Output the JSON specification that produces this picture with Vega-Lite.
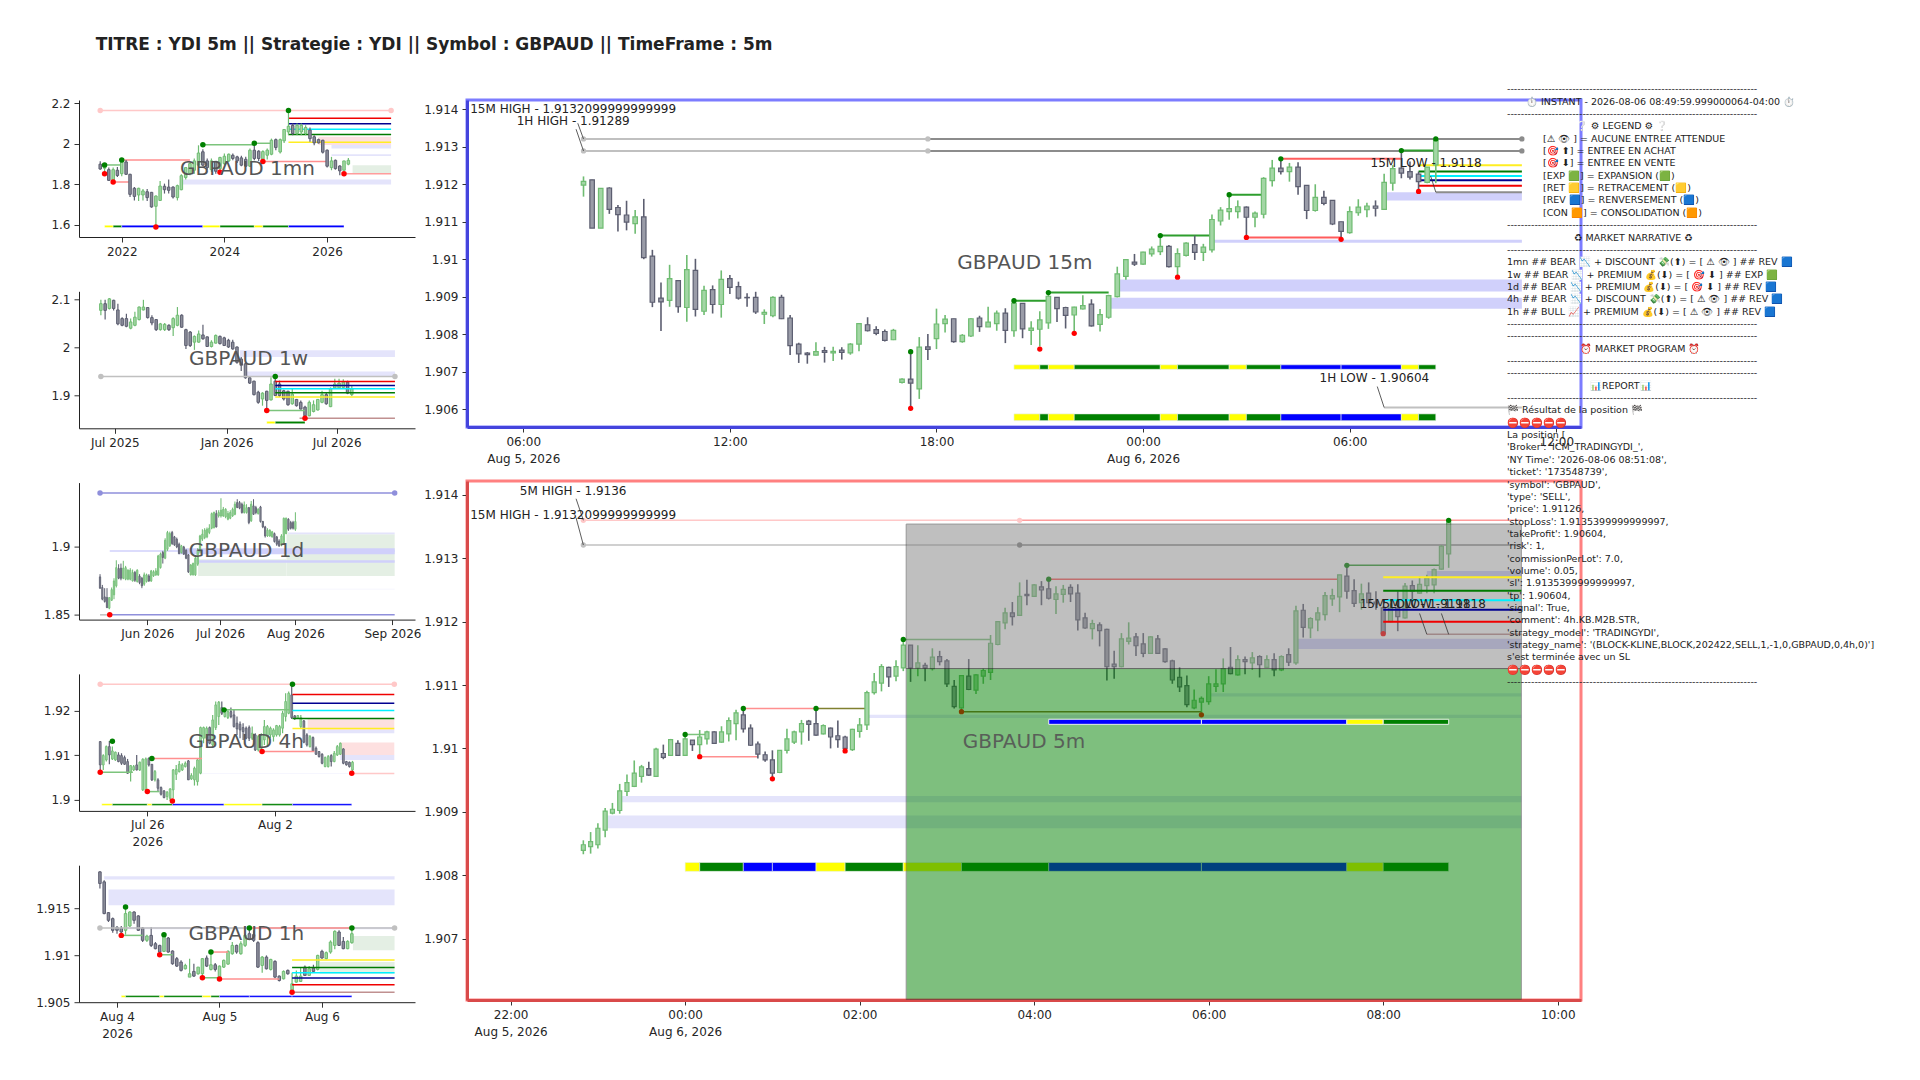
{"$schema":"https://vega.github.io/schema/vega-lite/v6.json","padding":{"left":35,"top":36,"right":0,"bottom":0},"background":"white","bounds":"flush","spacing":388,"title":{"text":"TITRE : YDI 5m || Strategie : YDI || Symbol : GBPAUD || TimeFrame : 5m","anchor":"start","frame":"bounds","font":"DejaVu Sans","fontWeight":"bold","fontSize":17,"color":"#222222","offset":30,"dx":60},
"config":{"legend":{"disable":true},"view":{"stroke":null},"axis":{"title":null,"grid":false,"labelFont":"DejaVu Sans","labelFontSize":12,"labelColor":"#262626","domainColor":"#222222","tickColor":"#333333","tickSize":5,"labelPadding":4,"labelOverlap":false,"labelFlush":false,"labelLineHeight":17},"text":{"font":"DejaVu Sans"}},
"datasets":{
"c15":[{"t":"2026-08-05T07:45","o":1.91198,"h":1.91221,"l":1.91167,"c":1.91208},{"t":"2026-08-05T08:00","o":1.91212,"h":1.91212,"l":1.91083,"c":1.91083},{"t":"2026-08-05T08:15","o":1.91083,"h":1.9119,"l":1.91083,"c":1.91189},{"t":"2026-08-05T08:30","o":1.9119,"h":1.91192,"l":1.91121,"c":1.91133},{"t":"2026-08-05T08:45","o":1.91138,"h":1.91145,"l":1.91074,"c":1.91119},{"t":"2026-08-05T09:00","o":1.91118,"h":1.91156,"l":1.91077,"c":1.91099},{"t":"2026-08-05T09:15","o":1.91095,"h":1.91131,"l":1.91068,"c":1.91113},{"t":"2026-08-05T09:30","o":1.91113,"h":1.91161,"l":1.91,"c":1.91004},{"t":"2026-08-05T09:45","o":1.91008,"h":1.91025,"l":1.90872,"c":1.90885},{"t":"2026-08-05T10:00","o":1.90896,"h":1.90938,"l":1.90808,"c":1.90886},{"t":"2026-08-05T10:15","o":1.9089,"h":1.90985,"l":1.90873,"c":1.90948},{"t":"2026-08-05T10:30","o":1.90943,"h":1.90943,"l":1.90857,"c":1.90873},{"t":"2026-08-05T10:45","o":1.90871,"h":1.91011,"l":1.90833,"c":1.90972},{"t":"2026-08-05T11:00","o":1.9097,"h":1.91001,"l":1.90847,"c":1.90866},{"t":"2026-08-05T11:15","o":1.90861,"h":1.90929,"l":1.90851,"c":1.90917},{"t":"2026-08-05T11:30","o":1.90919,"h":1.9093,"l":1.90855,"c":1.90879},{"t":"2026-08-05T11:45","o":1.90879,"h":1.9097,"l":1.90844,"c":1.90946},{"t":"2026-08-05T12:00","o":1.90948,"h":1.90958,"l":1.90907,"c":1.90925},{"t":"2026-08-05T12:15","o":1.90927,"h":1.9094,"l":1.90892,"c":1.90896},{"t":"2026-08-05T12:30","o":1.90898,"h":1.90909,"l":1.90873,"c":1.90897},{"t":"2026-08-05T12:45","o":1.90898,"h":1.90913,"l":1.90854,"c":1.90859},{"t":"2026-08-05T13:00","o":1.90853,"h":1.90866,"l":1.90827,"c":1.90858},{"t":"2026-08-05T13:15","o":1.90849,"h":1.90901,"l":1.90845,"c":1.90898},{"t":"2026-08-05T13:30","o":1.90898,"h":1.90905,"l":1.9084,"c":1.90841},{"t":"2026-08-05T13:45","o":1.90843,"h":1.90851,"l":1.90744,"c":1.90769},{"t":"2026-08-05T14:00","o":1.90773,"h":1.90777,"l":1.90723,"c":1.90747},{"t":"2026-08-05T14:15","o":1.90749,"h":1.90752,"l":1.90721,"c":1.90745},{"t":"2026-08-05T14:30","o":1.90744,"h":1.90778,"l":1.90743,"c":1.90753},{"t":"2026-08-05T14:45","o":1.90756,"h":1.90766,"l":1.90724,"c":1.90751},{"t":"2026-08-05T15:00","o":1.9075,"h":1.90766,"l":1.90728,"c":1.90754},{"t":"2026-08-05T15:15","o":1.90757,"h":1.90765,"l":1.90732,"c":1.90751},{"t":"2026-08-05T15:30","o":1.9075,"h":1.90776,"l":1.90745,"c":1.90773},{"t":"2026-08-05T15:45","o":1.90773,"h":1.90829,"l":1.90754,"c":1.90828},{"t":"2026-08-05T16:00","o":1.90825,"h":1.90845,"l":1.90807,"c":1.90809},{"t":"2026-08-05T16:15","o":1.90812,"h":1.90821,"l":1.90797,"c":1.90802},{"t":"2026-08-05T16:30","o":1.90807,"h":1.90812,"l":1.9078,"c":1.90783},{"t":"2026-08-05T16:45","o":1.90785,"h":1.90814,"l":1.90784,"c":1.9081},{"t":"2026-08-05T17:00","o":1.90671,"h":1.90682,"l":1.90668,"c":1.9068},{"t":"2026-08-05T17:15","o":1.9068,"h":1.90753,"l":1.90602,"c":1.90669},{"t":"2026-08-05T17:30","o":1.90654,"h":1.90792,"l":1.90627,"c":1.90765},{"t":"2026-08-05T17:45","o":1.90766,"h":1.908,"l":1.90731,"c":1.90759},{"t":"2026-08-05T18:00","o":1.90788,"h":1.90868,"l":1.9076,"c":1.90827},{"t":"2026-08-05T18:15","o":1.90828,"h":1.90851,"l":1.90804,"c":1.9084},{"t":"2026-08-05T18:30","o":1.90841,"h":1.90841,"l":1.90777,"c":1.9078},{"t":"2026-08-05T18:45","o":1.9078,"h":1.908,"l":1.90777,"c":1.90797},{"t":"2026-08-05T19:00","o":1.90795,"h":1.90842,"l":1.90792,"c":1.90841},{"t":"2026-08-05T19:15","o":1.90843,"h":1.90849,"l":1.90806,"c":1.9082},{"t":"2026-08-05T19:30","o":1.90819,"h":1.90873,"l":1.90819,"c":1.90832},{"t":"2026-08-05T19:45","o":1.90828,"h":1.90863,"l":1.90809,"c":1.90856},{"t":"2026-08-05T20:00","o":1.90856,"h":1.90869,"l":1.90776,"c":1.9081},{"t":"2026-08-05T20:15","o":1.90809,"h":1.90891,"l":1.90793,"c":1.90882},{"t":"2026-08-05T20:30","o":1.90882,"h":1.90882,"l":1.90789,"c":1.90814},{"t":"2026-08-05T20:45","o":1.9081,"h":1.90834,"l":1.90771,"c":1.90816},{"t":"2026-08-05T21:00","o":1.90813,"h":1.90861,"l":1.90767,"c":1.90838},{"t":"2026-08-05T21:15","o":1.9083,"h":1.90911,"l":1.90814,"c":1.90901},{"t":"2026-08-05T21:30","o":1.90898,"h":1.90898,"l":1.90832,"c":1.90868},{"t":"2026-08-05T21:45","o":1.90871,"h":1.90873,"l":1.90815,"c":1.9085},{"t":"2026-08-05T22:00","o":1.90851,"h":1.90873,"l":1.90802,"c":1.90872},{"t":"2026-08-05T22:15","o":1.90867,"h":1.90904,"l":1.90866,"c":1.90876},{"t":"2026-08-05T22:30","o":1.9088,"h":1.90893,"l":1.9082,"c":1.90822},{"t":"2026-08-05T22:45","o":1.90826,"h":1.90867,"l":1.90807,"c":1.90852},{"t":"2026-08-05T23:00","o":1.90845,"h":1.90905,"l":1.90841,"c":1.90903},{"t":"2026-08-05T23:15","o":1.909,"h":1.9098,"l":1.90898,"c":1.90961},{"t":"2026-08-05T23:30","o":1.90954,"h":1.91,"l":1.90945,"c":1.90999},{"t":"2026-08-05T23:45","o":1.90992,"h":1.91014,"l":1.90982,"c":1.90987},{"t":"2026-08-06T00:00","o":1.90987,"h":1.9102,"l":1.90985,"c":1.91019},{"t":"2026-08-06T00:15","o":1.91014,"h":1.91034,"l":1.91007,"c":1.91027},{"t":"2026-08-06T00:30","o":1.9102,"h":1.9106,"l":1.91011,"c":1.91034},{"t":"2026-08-06T00:45","o":1.91034,"h":1.91038,"l":1.90978,"c":1.9098},{"t":"2026-08-06T01:00","o":1.9098,"h":1.91029,"l":1.90952,"c":1.91015},{"t":"2026-08-06T01:15","o":1.9101,"h":1.91045,"l":1.91007,"c":1.91043},{"t":"2026-08-06T01:30","o":1.91039,"h":1.91063,"l":1.90998,"c":1.91018},{"t":"2026-08-06T01:45","o":1.91018,"h":1.91041,"l":1.90995,"c":1.91032},{"t":"2026-08-06T02:00","o":1.91025,"h":1.91119,"l":1.91018,"c":1.91106},{"t":"2026-08-06T02:15","o":1.91102,"h":1.91139,"l":1.9109,"c":1.91131},{"t":"2026-08-06T02:30","o":1.91127,"h":1.91172,"l":1.91105,"c":1.91135},{"t":"2026-08-06T02:45","o":1.91127,"h":1.91157,"l":1.91109,"c":1.9114},{"t":"2026-08-06T03:00","o":1.91139,"h":1.91141,"l":1.91058,"c":1.91112},{"t":"2026-08-06T03:15","o":1.91112,"h":1.91127,"l":1.91085,"c":1.91123},{"t":"2026-08-06T03:30","o":1.9112,"h":1.91219,"l":1.91109,"c":1.91216},{"t":"2026-08-06T03:45","o":1.9121,"h":1.91265,"l":1.91194,"c":1.91243},{"t":"2026-08-06T04:00","o":1.91243,"h":1.91268,"l":1.91226,"c":1.91234},{"t":"2026-08-06T04:15","o":1.91234,"h":1.91257,"l":1.91207,"c":1.91246},{"t":"2026-08-06T04:30","o":1.91246,"h":1.91259,"l":1.91172,"c":1.91194},{"t":"2026-08-06T04:45","o":1.91197,"h":1.91198,"l":1.91107,"c":1.9113},{"t":"2026-08-06T05:00","o":1.9113,"h":1.912,"l":1.91127,"c":1.91165},{"t":"2026-08-06T05:15","o":1.91165,"h":1.91183,"l":1.91144,"c":1.91149},{"t":"2026-08-06T05:30","o":1.91157,"h":1.91157,"l":1.91091,"c":1.91094},{"t":"2026-08-06T05:45","o":1.911,"h":1.911,"l":1.91053,"c":1.91074},{"t":"2026-08-06T06:00","o":1.91071,"h":1.91141,"l":1.91068,"c":1.91127},{"t":"2026-08-06T06:15","o":1.91124,"h":1.9116,"l":1.91116,"c":1.91139},{"t":"2026-08-06T06:30","o":1.91132,"h":1.91151,"l":1.91112,"c":1.91142},{"t":"2026-08-06T06:45","o":1.91142,"h":1.91157,"l":1.91114,"c":1.91136},{"t":"2026-08-06T07:00","o":1.91133,"h":1.91228,"l":1.91132,"c":1.91205},{"t":"2026-08-06T07:15","o":1.91203,"h":1.91251,"l":1.91183,"c":1.91242},{"t":"2026-08-06T07:30","o":1.91243,"h":1.91289,"l":1.91216,"c":1.9123},{"t":"2026-08-06T07:45","o":1.91234,"h":1.91261,"l":1.91213,"c":1.91219},{"t":"2026-08-06T08:00","o":1.91227,"h":1.91234,"l":1.91181,"c":1.91207},{"t":"2026-08-06T08:15","o":1.91205,"h":1.91246,"l":1.91203,"c":1.91246},{"t":"2026-08-06T08:30","o":1.91252,"h":1.91321,"l":1.91203,"c":1.91319}],
"s15":[{"t":"2026-08-05T07:45","e":"2026-08-05T17:45","y":1.91321,"k":"gryL"},{"t":"2026-08-05T17:45","e":"2026-08-06T11:00","y":1.91321,"k":"gry"},{"t":"2026-08-05T07:45","e":"2026-08-05T17:45","y":1.91289,"k":"gryL"},{"t":"2026-08-05T17:45","e":"2026-08-06T11:00","y":1.91289,"k":"gry"},{"t":"2026-08-06T07:00","e":"2026-08-06T11:00","y":1.90604,"k":"gryL"},{"t":"2026-08-06T08:30","e":"2026-08-06T11:00","y":1.91179,"k":"gry"},{"t":"2026-08-05T20:15","e":"2026-08-05T21:15","y":1.90889,"k":"up"},{"t":"2026-08-05T21:15","e":"2026-08-05T23:00","y":1.90911,"k":"up"},{"t":"2026-08-06T00:30","e":"2026-08-06T02:00","y":1.91063,"k":"up"},{"t":"2026-08-06T02:30","e":"2026-08-06T03:30","y":1.91172,"k":"up"},{"t":"2026-08-06T07:30","e":"2026-08-06T08:30","y":1.9129,"k":"up"},{"t":"2026-08-06T04:00","e":"2026-08-06T07:30","y":1.91268,"k":"dn"},{"t":"2026-08-06T03:00","e":"2026-08-06T05:45","y":1.91058,"k":"dn"},{"t":"2026-08-06T08:00","e":"2026-08-06T11:00","y":1.91251,"k":"yel"},{"t":"2026-08-06T08:00","e":"2026-08-06T11:00","y":1.91234,"k":"grn"},{"t":"2026-08-06T08:00","e":"2026-08-06T11:00","y":1.91222,"k":"cya"},{"t":"2026-08-06T08:00","e":"2026-08-06T11:00","y":1.91211,"k":"nav"},{"t":"2026-08-06T08:00","e":"2026-08-06T11:00","y":1.91196,"k":"red"}],
"z15":[{"t":"2026-08-05T23:15","e":"2026-08-06T11:00","y":1.90946,"y2":1.90914,"k":"lav"},{"t":"2026-08-05T23:00","e":"2026-08-06T11:00","y":1.90897,"y2":1.90868,"k":"lav"},{"t":"2026-08-06T02:00","e":"2026-08-06T11:00","y":1.91052,"y2":1.91044,"k":"lav"},{"t":"2026-08-06T07:00","e":"2026-08-06T11:00","y":1.91179,"y2":1.91157,"k":"lav"}],
"b15":[{"t":"2026-08-05T20:15","e":"2026-08-05T21:00","y":1.90718,"y2":1.90706,"k":"barY"},{"t":"2026-08-05T21:00","e":"2026-08-05T21:15","y":1.90718,"y2":1.90706,"k":"barG"},{"t":"2026-08-05T21:15","e":"2026-08-05T22:00","y":1.90718,"y2":1.90706,"k":"barY"},{"t":"2026-08-05T22:00","e":"2026-08-06T00:30","y":1.90718,"y2":1.90706,"k":"barG"},{"t":"2026-08-06T00:30","e":"2026-08-06T01:00","y":1.90718,"y2":1.90706,"k":"barY"},{"t":"2026-08-06T01:00","e":"2026-08-06T02:30","y":1.90718,"y2":1.90706,"k":"barG"},{"t":"2026-08-06T02:30","e":"2026-08-06T03:00","y":1.90718,"y2":1.90706,"k":"barY"},{"t":"2026-08-06T03:00","e":"2026-08-06T04:00","y":1.90718,"y2":1.90706,"k":"barG"},{"t":"2026-08-06T04:00","e":"2026-08-06T05:45","y":1.90718,"y2":1.90706,"k":"barB"},{"t":"2026-08-06T05:45","e":"2026-08-06T07:30","y":1.90718,"y2":1.90706,"k":"barB"},{"t":"2026-08-06T07:30","e":"2026-08-06T08:00","y":1.90718,"y2":1.90706,"k":"barY"},{"t":"2026-08-06T08:00","e":"2026-08-06T08:30","y":1.90718,"y2":1.90706,"k":"barG"},{"t":"2026-08-05T20:15","e":"2026-08-05T21:00","y":1.90587,"y2":1.90569,"k":"barY"},{"t":"2026-08-05T21:00","e":"2026-08-05T21:15","y":1.90587,"y2":1.90569,"k":"barG"},{"t":"2026-08-05T21:15","e":"2026-08-05T22:00","y":1.90587,"y2":1.90569,"k":"barY"},{"t":"2026-08-05T22:00","e":"2026-08-06T00:30","y":1.90587,"y2":1.90569,"k":"barG"},{"t":"2026-08-06T00:30","e":"2026-08-06T01:00","y":1.90587,"y2":1.90569,"k":"barY"},{"t":"2026-08-06T01:00","e":"2026-08-06T02:30","y":1.90587,"y2":1.90569,"k":"barG"},{"t":"2026-08-06T02:30","e":"2026-08-06T03:00","y":1.90587,"y2":1.90569,"k":"barY"},{"t":"2026-08-06T03:00","e":"2026-08-06T04:00","y":1.90587,"y2":1.90569,"k":"barG"},{"t":"2026-08-06T04:00","e":"2026-08-06T05:45","y":1.90587,"y2":1.90569,"k":"barB"},{"t":"2026-08-06T05:45","e":"2026-08-06T07:30","y":1.90587,"y2":1.90569,"k":"barB"},{"t":"2026-08-06T07:30","e":"2026-08-06T08:00","y":1.90587,"y2":1.90569,"k":"barY"},{"t":"2026-08-06T08:00","e":"2026-08-06T08:30","y":1.90587,"y2":1.90569,"k":"barG"}],
"d15":[{"t":"2026-08-05T07:45","y":1.91321,"k":"gryL"},{"t":"2026-08-05T07:45","y":1.91289,"k":"gryL"},{"t":"2026-08-05T17:45","y":1.91321,"k":"gryL"},{"t":"2026-08-05T17:45","y":1.91289,"k":"gryL"},{"t":"2026-08-06T11:00","y":1.91321,"k":"gry"},{"t":"2026-08-06T11:00","y":1.91289,"k":"gry"},{"t":"2026-08-05T17:15","y":1.90753,"k":"dotU"},{"t":"2026-08-05T20:15","y":1.90889,"k":"dotU"},{"t":"2026-08-05T21:15","y":1.90911,"k":"dotU"},{"t":"2026-08-06T00:30","y":1.91063,"k":"dotU"},{"t":"2026-08-06T02:30","y":1.91172,"k":"dotU"},{"t":"2026-08-06T04:00","y":1.91268,"k":"dotU"},{"t":"2026-08-06T07:30","y":1.9129,"k":"dotU"},{"t":"2026-08-06T08:30","y":1.91321,"k":"dotU"},{"t":"2026-08-05T17:15","y":1.90602,"k":"dotD"},{"t":"2026-08-05T21:00","y":1.9076,"k":"dotD"},{"t":"2026-08-05T22:00","y":1.90802,"k":"dotD"},{"t":"2026-08-06T01:00","y":1.90952,"k":"dotD"},{"t":"2026-08-06T03:00","y":1.91058,"k":"dotD"},{"t":"2026-08-06T05:45","y":1.91053,"k":"dotD"},{"t":"2026-08-06T08:00","y":1.91181,"k":"dotD"}],
"x15":[{"t":"2026-08-05T07:27","y":1.91401,"label":"15M HIGH - 1.9132099999999999"},{"t":"2026-08-05T07:27","y":1.91369,"label":"1H HIGH - 1.91289"},{"t":"2026-08-06T06:43","y":1.90684,"label":"1H LOW - 1.90604"},{"t":"2026-08-06T08:13","y":1.91258,"label":"15M LOW - 1.9118"}],
"n15":[{"g":"a","t":"2026-08-05T07:35","y":1.91363},{"g":"a","t":"2026-08-05T07:45","y":1.91321},{"g":"b","t":"2026-08-05T07:32","y":1.91347},{"g":"b","t":"2026-08-05T07:45","y":1.91289},{"g":"c","t":"2026-08-06T06:48","y":1.9066},{"g":"c","t":"2026-08-06T07:00","y":1.90604},{"g":"d","t":"2026-08-06T08:21","y":1.91222},{"g":"d","t":"2026-08-06T08:30","y":1.91179}],
"c5":[{"t":"2026-08-05T22:50","o":1.90839,"h":1.90855,"l":1.90833,"c":1.90848},{"t":"2026-08-05T22:55","o":1.90845,"h":1.90868,"l":1.90834,"c":1.90853},{"t":"2026-08-05T23:00","o":1.90848,"h":1.90882,"l":1.90842,"c":1.90874},{"t":"2026-08-05T23:05","o":1.90871,"h":1.90906,"l":1.9086,"c":1.90901},{"t":"2026-08-05T23:10","o":1.90898,"h":1.90914,"l":1.90896,"c":1.90904},{"t":"2026-08-05T23:15","o":1.90902,"h":1.90944,"l":1.90897,"c":1.90933},{"t":"2026-08-05T23:20","o":1.90932,"h":1.90959,"l":1.90925,"c":1.90946},{"t":"2026-08-05T23:25","o":1.9094,"h":1.90981,"l":1.90939,"c":1.90961},{"t":"2026-08-05T23:30","o":1.90956,"h":1.90974,"l":1.90946,"c":1.90971},{"t":"2026-08-05T23:35","o":1.90968,"h":1.90979,"l":1.90957,"c":1.90958},{"t":"2026-08-05T23:40","o":1.90956,"h":1.91001,"l":1.90955,"c":1.90999},{"t":"2026-08-05T23:45","o":1.90992,"h":1.91006,"l":1.90983,"c":1.90986},{"t":"2026-08-05T23:50","o":1.90989,"h":1.91015,"l":1.90988,"c":1.91014},{"t":"2026-08-05T23:55","o":1.91008,"h":1.91013,"l":1.90988,"c":1.90989},{"t":"2026-08-06T00:00","o":1.90989,"h":1.91022,"l":1.90988,"c":1.91015},{"t":"2026-08-06T00:05","o":1.91013,"h":1.91013,"l":1.90996,"c":1.91006},{"t":"2026-08-06T00:10","o":1.91006,"h":1.91029,"l":1.90987,"c":1.91018},{"t":"2026-08-06T00:15","o":1.91015,"h":1.91028,"l":1.91006,"c":1.91026},{"t":"2026-08-06T00:20","o":1.91026,"h":1.91027,"l":1.91007,"c":1.91008},{"t":"2026-08-06T00:25","o":1.9101,"h":1.91035,"l":1.91009,"c":1.91026},{"t":"2026-08-06T00:30","o":1.91023,"h":1.91049,"l":1.91011,"c":1.91044},{"t":"2026-08-06T00:35","o":1.91039,"h":1.91061,"l":1.91013,"c":1.91056},{"t":"2026-08-06T00:40","o":1.91053,"h":1.91061,"l":1.91025,"c":1.91031},{"t":"2026-08-06T00:45","o":1.91032,"h":1.91038,"l":1.91004,"c":1.91005},{"t":"2026-08-06T00:50","o":1.91007,"h":1.91011,"l":1.90984,"c":1.90991},{"t":"2026-08-06T00:55","o":1.9099,"h":1.90995,"l":1.90979,"c":1.90982},{"t":"2026-08-06T01:00","o":1.90982,"h":1.90997,"l":1.90952,"c":1.90961},{"t":"2026-08-06T01:05","o":1.90962,"h":1.90997,"l":1.90961,"c":1.90997},{"t":"2026-08-06T01:10","o":1.90997,"h":1.91031,"l":1.90992,"c":1.91015},{"t":"2026-08-06T01:15","o":1.9101,"h":1.91028,"l":1.91007,"c":1.91026},{"t":"2026-08-06T01:20","o":1.91026,"h":1.91045,"l":1.91006,"c":1.91039},{"t":"2026-08-06T01:25","o":1.91043,"h":1.91045,"l":1.91012,"c":1.91038},{"t":"2026-08-06T01:30","o":1.91039,"h":1.91063,"l":1.9102,"c":1.91021},{"t":"2026-08-06T01:35","o":1.91023,"h":1.91038,"l":1.91022,"c":1.91036},{"t":"2026-08-06T01:40","o":1.91032,"h":1.91033,"l":1.91,"c":1.91018},{"t":"2026-08-06T01:45","o":1.9102,"h":1.91044,"l":1.91001,"c":1.91014},{"t":"2026-08-06T01:50","o":1.91018,"h":1.9102,"l":1.90996,"c":1.91},{"t":"2026-08-06T01:55","o":1.90998,"h":1.91031,"l":1.90996,"c":1.9103},{"t":"2026-08-06T02:00","o":1.91027,"h":1.91048,"l":1.91017,"c":1.91037},{"t":"2026-08-06T02:05","o":1.91037,"h":1.91091,"l":1.91029,"c":1.91088},{"t":"2026-08-06T02:10","o":1.91088,"h":1.91119,"l":1.91085,"c":1.91105},{"t":"2026-08-06T02:15","o":1.91103,"h":1.91133,"l":1.9109,"c":1.91129},{"t":"2026-08-06T02:20","o":1.91128,"h":1.91129,"l":1.91097,"c":1.91113},{"t":"2026-08-06T02:25","o":1.91114,"h":1.91139,"l":1.91106,"c":1.91129},{"t":"2026-08-06T02:30","o":1.91127,"h":1.91172,"l":1.91122,"c":1.91163},{"t":"2026-08-06T02:35","o":1.91163,"h":1.91163,"l":1.91105,"c":1.91127},{"t":"2026-08-06T02:40","o":1.91127,"h":1.91163,"l":1.91114,"c":1.91135},{"t":"2026-08-06T02:45","o":1.91131,"h":1.91135,"l":1.91106,"c":1.91127},{"t":"2026-08-06T02:50","o":1.91126,"h":1.91158,"l":1.91123,"c":1.91144},{"t":"2026-08-06T02:55","o":1.91145,"h":1.91154,"l":1.91131,"c":1.91137},{"t":"2026-08-06T03:00","o":1.91138,"h":1.91141,"l":1.91097,"c":1.91102},{"t":"2026-08-06T03:05","o":1.91098,"h":1.91108,"l":1.91063,"c":1.91066},{"t":"2026-08-06T03:10","o":1.91064,"h":1.91115,"l":1.91058,"c":1.91115},{"t":"2026-08-06T03:15","o":1.91114,"h":1.91141,"l":1.91092,"c":1.91093},{"t":"2026-08-06T03:20","o":1.91092,"h":1.91117,"l":1.91086,"c":1.91116},{"t":"2026-08-06T03:25","o":1.91114,"h":1.91126,"l":1.91102,"c":1.91123},{"t":"2026-08-06T03:30","o":1.9112,"h":1.91179,"l":1.91108,"c":1.91166},{"t":"2026-08-06T03:35","o":1.91164,"h":1.912,"l":1.91163,"c":1.912},{"t":"2026-08-06T03:40","o":1.91198,"h":1.91222,"l":1.91188,"c":1.91214},{"t":"2026-08-06T03:45","o":1.91214,"h":1.91231,"l":1.91194,"c":1.91208},{"t":"2026-08-06T03:50","o":1.9121,"h":1.91262,"l":1.91209,"c":1.9124},{"t":"2026-08-06T03:55","o":1.91243,"h":1.91266,"l":1.91226,"c":1.91241},{"t":"2026-08-06T04:00","o":1.9124,"h":1.91259,"l":1.91239,"c":1.91258},{"t":"2026-08-06T04:05","o":1.91255,"h":1.91264,"l":1.91226,"c":1.9125},{"t":"2026-08-06T04:10","o":1.91252,"h":1.91267,"l":1.91235,"c":1.91237},{"t":"2026-08-06T04:15","o":1.91235,"h":1.91256,"l":1.91212,"c":1.91244},{"t":"2026-08-06T04:20","o":1.91243,"h":1.91258,"l":1.9123,"c":1.91251},{"t":"2026-08-06T04:25","o":1.91254,"h":1.91259,"l":1.91231,"c":1.91244},{"t":"2026-08-06T04:30","o":1.91245,"h":1.91259,"l":1.91186,"c":1.91203},{"t":"2026-08-06T04:35","o":1.91206,"h":1.91214,"l":1.91189,"c":1.9119},{"t":"2026-08-06T04:40","o":1.91189,"h":1.91203,"l":1.91172,"c":1.91197},{"t":"2026-08-06T04:45","o":1.91195,"h":1.91199,"l":1.91161,"c":1.91186},{"t":"2026-08-06T04:50","o":1.91188,"h":1.91189,"l":1.91107,"c":1.91129},{"t":"2026-08-06T04:55","o":1.91133,"h":1.91154,"l":1.9111,"c":1.91129},{"t":"2026-08-06T05:00","o":1.91129,"h":1.91182,"l":1.91128,"c":1.91173},{"t":"2026-08-06T05:05","o":1.91169,"h":1.91199,"l":1.91164,"c":1.91174},{"t":"2026-08-06T05:10","o":1.91176,"h":1.91182,"l":1.91146,"c":1.91162},{"t":"2026-08-06T05:15","o":1.91165,"h":1.91182,"l":1.91144,"c":1.9115},{"t":"2026-08-06T05:20","o":1.9115,"h":1.91177,"l":1.91149,"c":1.91176},{"t":"2026-08-06T05:25","o":1.91173,"h":1.91179,"l":1.91149,"c":1.9115},{"t":"2026-08-06T05:30","o":1.91157,"h":1.91158,"l":1.91135,"c":1.91137},{"t":"2026-08-06T05:35","o":1.91138,"h":1.9114,"l":1.91102,"c":1.91108},{"t":"2026-08-06T05:40","o":1.91112,"h":1.91128,"l":1.91089,"c":1.91097},{"t":"2026-08-06T05:45","o":1.91099,"h":1.91115,"l":1.91065,"c":1.91069},{"t":"2026-08-06T05:50","o":1.91064,"h":1.91093,"l":1.91062,"c":1.91076},{"t":"2026-08-06T05:55","o":1.91073,"h":1.91082,"l":1.91053,"c":1.91079},{"t":"2026-08-06T06:00","o":1.91074,"h":1.91114,"l":1.91069,"c":1.91102},{"t":"2026-08-06T06:05","o":1.91098,"h":1.91125,"l":1.91089,"c":1.91102},{"t":"2026-08-06T06:10","o":1.91102,"h":1.91142,"l":1.91089,"c":1.91126},{"t":"2026-08-06T06:15","o":1.91128,"h":1.9116,"l":1.91117,"c":1.91118},{"t":"2026-08-06T06:20","o":1.91116,"h":1.91147,"l":1.91115,"c":1.9114},{"t":"2026-08-06T06:25","o":1.9114,"h":1.91145,"l":1.91117,"c":1.91137},{"t":"2026-08-06T06:30","o":1.91135,"h":1.91152,"l":1.91124,"c":1.91143},{"t":"2026-08-06T06:35","o":1.91145,"h":1.91147,"l":1.91112,"c":1.91132},{"t":"2026-08-06T06:40","o":1.91128,"h":1.91147,"l":1.91128,"c":1.9114},{"t":"2026-08-06T06:45","o":1.9114,"h":1.9115,"l":1.91114,"c":1.91124},{"t":"2026-08-06T06:50","o":1.91124,"h":1.91147,"l":1.91122,"c":1.91145},{"t":"2026-08-06T06:55","o":1.91148,"h":1.91158,"l":1.9113,"c":1.91136},{"t":"2026-08-06T07:00","o":1.91135,"h":1.91225,"l":1.91132,"c":1.91217},{"t":"2026-08-06T07:05","o":1.91218,"h":1.91228,"l":1.91175,"c":1.91191},{"t":"2026-08-06T07:10","o":1.9119,"h":1.91207,"l":1.91174,"c":1.91205},{"t":"2026-08-06T07:15","o":1.91203,"h":1.91223,"l":1.91185,"c":1.91214},{"t":"2026-08-06T07:20","o":1.91211,"h":1.91247,"l":1.91202,"c":1.91241},{"t":"2026-08-06T07:25","o":1.91236,"h":1.91252,"l":1.91225,"c":1.91241},{"t":"2026-08-06T07:30","o":1.91239,"h":1.91274,"l":1.91215,"c":1.91274},{"t":"2026-08-06T07:35","o":1.91272,"h":1.9129,"l":1.91236,"c":1.91248},{"t":"2026-08-06T07:40","o":1.91249,"h":1.91267,"l":1.91223,"c":1.91229},{"t":"2026-08-06T07:45","o":1.9123,"h":1.9126,"l":1.91219,"c":1.91244},{"t":"2026-08-06T07:50","o":1.91245,"h":1.91262,"l":1.91224,"c":1.9123},{"t":"2026-08-06T07:55","o":1.91231,"h":1.91248,"l":1.91219,"c":1.91228},{"t":"2026-08-06T08:00","o":1.91222,"h":1.91224,"l":1.91181,"c":1.91182},{"t":"2026-08-06T08:05","o":1.912,"h":1.91229,"l":1.91199,"c":1.91222},{"t":"2026-08-06T08:10","o":1.91222,"h":1.91248,"l":1.91185,"c":1.91208},{"t":"2026-08-06T08:15","o":1.91206,"h":1.91261,"l":1.91205,"c":1.91256},{"t":"2026-08-06T08:20","o":1.91257,"h":1.91265,"l":1.91235,"c":1.91248},{"t":"2026-08-06T08:25","o":1.91245,"h":1.91271,"l":1.91244,"c":1.91259},{"t":"2026-08-06T08:30","o":1.91257,"h":1.91274,"l":1.91245,"c":1.91269},{"t":"2026-08-06T08:35","o":1.91258,"h":1.91284,"l":1.91245,"c":1.91282},{"t":"2026-08-06T08:40","o":1.91283,"h":1.91321,"l":1.91282,"c":1.91319},{"t":"2026-08-06T08:45","o":1.91307,"h":1.9136,"l":1.91285,"c":1.91357}],
"s5":[{"t":"2026-08-05T22:50","e":"2026-08-06T03:50","y":1.9136,"k":"pnkL"},{"t":"2026-08-06T03:50","e":"2026-08-06T09:35","y":1.9136,"k":"pnk"},{"t":"2026-08-05T22:50","e":"2026-08-06T03:50","y":1.91321,"k":"gryL"},{"t":"2026-08-06T03:50","e":"2026-08-06T09:35","y":1.91321,"k":"gry"},{"t":"2026-08-06T00:00","e":"2026-08-06T00:15","y":1.91022,"k":"upL"},{"t":"2026-08-06T00:10","e":"2026-08-06T00:50","y":1.90987,"k":"dnL"},{"t":"2026-08-06T00:40","e":"2026-08-06T01:30","y":1.91063,"k":"dnL"},{"t":"2026-08-06T01:30","e":"2026-08-06T02:05","y":1.91063,"k":"olv"},{"t":"2026-08-06T02:30","e":"2026-08-06T03:30","y":1.91172,"k":"upL"},{"t":"2026-08-06T03:10","e":"2026-08-06T05:55","y":1.91058,"k":"brn"},{"t":"2026-08-06T04:10","e":"2026-08-06T07:30","y":1.91267,"k":"dn"},{"t":"2026-08-06T07:35","e":"2026-08-06T08:40","y":1.91289,"k":"up"},{"t":"2026-08-06T08:30","e":"2026-08-06T09:35","y":1.9118,"k":"ros"}],
"l5":[{"t":"2026-08-06T08:00","e":"2026-08-06T09:35","y":1.9127,"k":"yel"},{"t":"2026-08-06T08:00","e":"2026-08-06T09:35","y":1.91249,"k":"grn"},{"t":"2026-08-06T08:00","e":"2026-08-06T09:35","y":1.91234,"k":"cya"},{"t":"2026-08-06T08:00","e":"2026-08-06T09:35","y":1.91219,"k":"nav"},{"t":"2026-08-06T08:00","e":"2026-08-06T09:35","y":1.912,"k":"red"}],
"z5":[{"t":"2026-08-05T23:15","e":"2026-08-06T09:35","y":1.90925,"y2":1.90915,"k":"lavL"},{"t":"2026-08-05T23:05","e":"2026-08-06T09:35","y":1.90894,"y2":1.90874,"k":"lavL"},{"t":"2026-08-06T02:05","e":"2026-08-06T09:35","y":1.91053,"y2":1.91048,"k":"lavL"},{"t":"2026-08-06T06:00","e":"2026-08-06T09:35","y":1.91087,"y2":1.91082,"k":"lavL"},{"t":"2026-08-06T07:00","e":"2026-08-06T09:35","y":1.91173,"y2":1.91157,"k":"lav"},{"t":"2026-08-06T08:30","e":"2026-08-06T09:35","y":1.9128,"y2":1.9127,"k":"lav"}],
"r5":[{"t":"2026-08-06T02:32","e":"2026-08-06T09:35","y":1.91354,"y2":1.91126,"k":"rGry"},{"t":"2026-08-06T02:32","e":"2026-08-06T09:35","y":1.91126,"y2":1.90604,"k":"rGrn"}],
"b5a":[{"t":"2026-08-06T00:00","e":"2026-08-06T00:10","y":1.9082,"y2":1.90806,"k":"barY"},{"t":"2026-08-06T00:10","e":"2026-08-06T00:40","y":1.9082,"y2":1.90806,"k":"barG"},{"t":"2026-08-06T00:40","e":"2026-08-06T01:00","y":1.9082,"y2":1.90806,"k":"barB"},{"t":"2026-08-06T01:00","e":"2026-08-06T01:30","y":1.9082,"y2":1.90806,"k":"barB"},{"t":"2026-08-06T01:30","e":"2026-08-06T01:50","y":1.9082,"y2":1.90806,"k":"barY"},{"t":"2026-08-06T01:50","e":"2026-08-06T02:30","y":1.9082,"y2":1.90806,"k":"barG"},{"t":"2026-08-06T02:30","e":"2026-08-06T03:10","y":1.9082,"y2":1.90806,"k":"barY"},{"t":"2026-08-06T03:10","e":"2026-08-06T04:10","y":1.9082,"y2":1.90806,"k":"barG"},{"t":"2026-08-06T04:10","e":"2026-08-06T05:55","y":1.9082,"y2":1.90806,"k":"barB"},{"t":"2026-08-06T05:55","e":"2026-08-06T07:35","y":1.9082,"y2":1.90806,"k":"barB"},{"t":"2026-08-06T07:35","e":"2026-08-06T08:00","y":1.9082,"y2":1.90806,"k":"barY"},{"t":"2026-08-06T08:00","e":"2026-08-06T08:45","y":1.9082,"y2":1.90806,"k":"barG"}],
"b5b":[{"t":"2026-08-06T04:10","e":"2026-08-06T05:55","y":1.91046,"y2":1.91038,"k":"barB"},{"t":"2026-08-06T05:55","e":"2026-08-06T07:35","y":1.91046,"y2":1.91038,"k":"barB"},{"t":"2026-08-06T07:35","e":"2026-08-06T08:00","y":1.91046,"y2":1.91038,"k":"barY"},{"t":"2026-08-06T08:00","e":"2026-08-06T08:45","y":1.91046,"y2":1.91038,"k":"barG"}],
"d5":[{"t":"2026-08-05T22:50","y":1.9136,"k":"pnkL"},{"t":"2026-08-05T22:50","y":1.91321,"k":"gryL"},{"t":"2026-08-06T03:50","y":1.9136,"k":"pnkL"},{"t":"2026-08-06T03:50","y":1.91321,"k":"gry"},{"t":"2026-08-06T00:00","y":1.91022,"k":"dotU"},{"t":"2026-08-06T00:40","y":1.91063,"k":"dotU"},{"t":"2026-08-06T01:30","y":1.91063,"k":"dotU"},{"t":"2026-08-06T02:30","y":1.91172,"k":"dotU"},{"t":"2026-08-06T04:10","y":1.91267,"k":"dotU"},{"t":"2026-08-06T07:35","y":1.91289,"k":"dotU"},{"t":"2026-08-06T08:45","y":1.9136,"k":"dotU"},{"t":"2026-08-06T00:10","y":1.90987,"k":"dotD"},{"t":"2026-08-06T01:00","y":1.90952,"k":"dotD"},{"t":"2026-08-06T01:50","y":1.90996,"k":"dotD"},{"t":"2026-08-06T03:10","y":1.91058,"k":"dotD"},{"t":"2026-08-06T05:55","y":1.91053,"k":"dotD"},{"t":"2026-08-06T08:00","y":1.91181,"k":"dotD"}],
"x5":[{"t":"2026-08-05T22:43","y":1.91407,"label":"5M HIGH - 1.9136"},{"t":"2026-08-05T22:43","y":1.91369,"label":"15M HIGH - 1.9132099999999999"},{"t":"2026-08-06T08:22","y":1.91228,"label":"15M LOW - 1.9118"},{"t":"2026-08-06T08:35","y":1.91228,"label":"5M LOW - 1.9118"}],
"n5":[{"g":"a","t":"2026-08-05T22:45","y":1.91394},{"g":"a","t":"2026-08-05T22:50","y":1.9136},{"g":"b","t":"2026-08-05T22:45","y":1.91364},{"g":"b","t":"2026-08-05T22:50","y":1.91321},{"g":"c","t":"2026-08-06T08:25","y":1.91213},{"g":"c","t":"2026-08-06T08:30","y":1.9118},{"g":"d","t":"2026-08-06T08:40","y":1.91213},{"g":"d","t":"2026-08-06T08:45","y":1.9118}],
"c1":[{"t":"2021-08-01T00:00","o":1.9,"h":1.914,"l":1.873,"c":1.876},{"t":"2021-09-01T00:00","o":1.88,"h":1.9,"l":1.853,"c":1.896},{"t":"2021-10-01T00:00","o":1.873,"h":1.883,"l":1.817,"c":1.82},{"t":"2021-11-01T00:00","o":1.82,"h":1.883,"l":1.812,"c":1.873},{"t":"2021-12-01T00:00","o":1.87,"h":1.886,"l":1.837,"c":1.844},{"t":"2022-01-01T00:00","o":1.853,"h":1.928,"l":1.84,"c":1.913},{"t":"2022-02-01T00:00","o":1.911,"h":1.921,"l":1.847,"c":1.85},{"t":"2022-03-01T00:00","o":1.85,"h":1.853,"l":1.738,"c":1.751},{"t":"2022-04-01T00:00","o":1.781,"h":1.787,"l":1.721,"c":1.741},{"t":"2022-05-01T00:00","o":1.748,"h":1.784,"l":1.718,"c":1.781},{"t":"2022-06-01T00:00","o":1.748,"h":1.778,"l":1.721,"c":1.768},{"t":"2022-07-01T00:00","o":1.764,"h":1.778,"l":1.718,"c":1.735},{"t":"2022-08-01T00:00","o":1.761,"h":1.763,"l":1.685,"c":1.689},{"t":"2022-09-01T00:00","o":1.692,"h":1.745,"l":1.59,"c":1.743},{"t":"2022-10-01T00:00","o":1.721,"h":1.817,"l":1.718,"c":1.792},{"t":"2022-11-01T00:00","o":1.791,"h":1.804,"l":1.755,"c":1.774},{"t":"2022-12-01T00:00","o":1.787,"h":1.824,"l":1.755,"c":1.771},{"t":"2023-01-01T00:00","o":1.787,"h":1.791,"l":1.73,"c":1.738},{"t":"2023-02-01T00:00","o":1.735,"h":1.799,"l":1.721,"c":1.794},{"t":"2023-03-01T00:00","o":1.774,"h":1.85,"l":1.771,"c":1.843},{"t":"2023-04-01T00:00","o":1.834,"h":1.886,"l":1.824,"c":1.883},{"t":"2023-05-01T00:00","o":1.853,"h":1.906,"l":1.845,"c":1.903},{"t":"2023-06-01T00:00","o":1.87,"h":1.928,"l":1.853,"c":1.916},{"t":"2023-07-01T00:00","o":1.895,"h":1.993,"l":1.886,"c":1.955},{"t":"2023-08-01T00:00","o":1.961,"h":1.974,"l":1.89,"c":1.895},{"t":"2023-09-01T00:00","o":1.916,"h":1.928,"l":1.873,"c":1.883},{"t":"2023-10-01T00:00","o":1.873,"h":1.928,"l":1.862,"c":1.916},{"t":"2023-11-01T00:00","o":1.914,"h":1.916,"l":1.853,"c":1.865},{"t":"2023-12-01T00:00","o":1.878,"h":1.936,"l":1.87,"c":1.933},{"t":"2024-01-01T00:00","o":1.903,"h":1.952,"l":1.895,"c":1.939},{"t":"2024-02-01T00:00","o":1.916,"h":1.952,"l":1.911,"c":1.949},{"t":"2024-03-01T00:00","o":1.944,"h":1.952,"l":1.919,"c":1.928},{"t":"2024-04-01T00:00","o":1.936,"h":1.941,"l":1.906,"c":1.916},{"t":"2024-05-01T00:00","o":1.931,"h":1.941,"l":1.89,"c":1.895},{"t":"2024-06-01T00:00","o":1.924,"h":1.936,"l":1.886,"c":1.89},{"t":"2024-07-01T00:00","o":1.89,"h":1.977,"l":1.886,"c":1.969},{"t":"2024-08-01T00:00","o":1.969,"h":2.005,"l":1.919,"c":1.928},{"t":"2024-09-01T00:00","o":1.964,"h":1.969,"l":1.916,"c":1.928},{"t":"2024-10-01T00:00","o":1.924,"h":1.969,"l":1.903,"c":1.962},{"t":"2024-11-01T00:00","o":1.944,"h":1.977,"l":1.923,"c":1.969},{"t":"2024-12-01T00:00","o":1.949,"h":2.026,"l":1.944,"c":2.018},{"t":"2025-01-01T00:00","o":2.021,"h":2.026,"l":1.969,"c":1.982},{"t":"2025-02-01T00:00","o":1.96,"h":2.026,"l":1.952,"c":2.021},{"t":"2025-03-01T00:00","o":2.015,"h":2.071,"l":2.005,"c":2.071},{"t":"2025-04-01T00:00","o":2.059,"h":2.163,"l":2.043,"c":2.087},{"t":"2025-05-01T00:00","o":2.091,"h":2.101,"l":2.043,"c":2.051},{"t":"2025-06-01T00:00","o":2.051,"h":2.101,"l":2.043,"c":2.092},{"t":"2025-07-01T00:00","o":2.059,"h":2.101,"l":2.043,"c":2.092},{"t":"2025-08-01T00:00","o":2.051,"h":2.092,"l":2.043,"c":2.081},{"t":"2025-09-01T00:00","o":2.068,"h":2.081,"l":2.01,"c":2.026},{"t":"2025-10-01T00:00","o":2.035,"h":2.043,"l":1.993,"c":2.005},{"t":"2025-11-01T00:00","o":2.021,"h":2.026,"l":2.002,"c":2.005},{"t":"2025-12-01T00:00","o":2.018,"h":2.021,"l":1.952,"c":1.959},{"t":"2026-01-01T00:00","o":1.969,"h":1.972,"l":1.883,"c":1.89},{"t":"2026-02-01T00:00","o":1.883,"h":1.936,"l":1.87,"c":1.916},{"t":"2026-03-01T00:00","o":1.919,"h":1.923,"l":1.873,"c":1.878},{"t":"2026-04-01T00:00","o":1.891,"h":1.895,"l":1.845,"c":1.867},{"t":"2026-05-01T00:00","o":1.87,"h":1.916,"l":1.867,"c":1.916},{"t":"2026-06-01T00:00","o":1.9,"h":1.931,"l":1.895,"c":1.919}],
"s1":[{"t":"2021-08-01T00:00","e":"2027-04-01T00:00","y":2.165,"k":"pnkL"},{"t":"2025-04-01T00:00","e":"2027-04-01T00:00","y":2.127,"k":"red"},{"t":"2025-04-01T00:00","e":"2027-04-01T00:00","y":2.099,"k":"nav"},{"t":"2025-04-01T00:00","e":"2027-04-01T00:00","y":2.072,"k":"cya"},{"t":"2025-04-01T00:00","e":"2027-04-01T00:00","y":2.046,"k":"grn"},{"t":"2025-04-01T00:00","e":"2027-04-01T00:00","y":2.008,"k":"yel"},{"t":"2021-09-01T00:00","e":"2022-01-01T00:00","y":1.896,"k":"upL"},{"t":"2022-01-01T00:00","e":"2023-05-01T00:00","y":1.921,"k":"dnL"},{"t":"2021-11-01T00:00","e":"2022-03-01T00:00","y":1.812,"k":"dnL"},{"t":"2023-08-01T00:00","e":"2024-08-01T00:00","y":1.996,"k":"upL"},{"t":"2024-08-01T00:00","e":"2024-12-01T00:00","y":2.003,"k":"upL"},{"t":"2024-10-01T00:00","e":"2026-01-01T00:00","y":1.913,"k":"dnL"},{"t":"2026-05-01T00:00","e":"2027-04-01T00:00","y":1.853,"k":"pnk"}],
"z1":[{"t":"2025-11-01T00:00","e":"2027-04-01T00:00","y":2.035,"y2":1.994,"k":"pnkZ"},{"t":"2026-02-01T00:00","e":"2027-04-01T00:00","y":1.994,"y2":1.977,"k":"lavL"},{"t":"2026-02-01T00:00","e":"2027-04-01T00:00","y":1.949,"y2":1.94,"k":"lavL"},{"t":"2026-07-01T00:00","e":"2027-04-01T00:00","y":1.895,"y2":1.853,"k":"grnZ"},{"t":"2023-03-01T00:00","e":"2027-04-01T00:00","y":1.824,"y2":1.8,"k":"lavL"}],
"b1":[{"t":"2021-09-01T00:00","e":"2021-11-01T00:00","y":1.5985,"y2":1.5875,"k":"barY"},{"t":"2021-11-01T00:00","e":"2022-01-01T00:00","y":1.5985,"y2":1.5875,"k":"barG"},{"t":"2022-01-01T00:00","e":"2022-09-01T00:00","y":1.5985,"y2":1.5875,"k":"barB"},{"t":"2022-09-01T00:00","e":"2023-08-01T00:00","y":1.5985,"y2":1.5875,"k":"barB"},{"t":"2023-08-01T00:00","e":"2023-12-01T00:00","y":1.5985,"y2":1.5875,"k":"barY"},{"t":"2023-12-01T00:00","e":"2024-08-01T00:00","y":1.5985,"y2":1.5875,"k":"barG"},{"t":"2024-08-01T00:00","e":"2024-10-01T00:00","y":1.5985,"y2":1.5875,"k":"barY"},{"t":"2024-10-01T00:00","e":"2025-04-01T00:00","y":1.5985,"y2":1.5875,"k":"barG"},{"t":"2025-04-01T00:00","e":"2026-05-01T00:00","y":1.5985,"y2":1.5875,"k":"barB"}],
"d1":[{"t":"2021-08-01T00:00","y":2.165,"k":"pnkL"},{"t":"2027-04-01T00:00","y":2.165,"k":"pnkL"},{"t":"2021-09-01T00:00","y":1.896,"k":"dotU"},{"t":"2022-01-01T00:00","y":1.921,"k":"dotU"},{"t":"2023-08-01T00:00","y":1.996,"k":"dotU"},{"t":"2024-08-01T00:00","y":2.003,"k":"dotU"},{"t":"2025-04-01T00:00","y":2.165,"k":"dotU"},{"t":"2021-09-01T00:00","y":1.853,"k":"dotD"},{"t":"2021-11-01T00:00","y":1.812,"k":"dotD"},{"t":"2022-09-01T00:00","y":1.59,"k":"dotD"},{"t":"2023-12-01T00:00","y":1.86,"k":"dotD"},{"t":"2024-10-01T00:00","y":1.913,"k":"dotD"},{"t":"2026-05-01T00:00","y":1.853,"k":"dotD"}],
"c2":[{"t":"2025-06-08T00:00","o":2.077,"h":2.099,"l":2.067,"c":2.091},{"t":"2025-06-15T00:00","o":2.091,"h":2.099,"l":2.058,"c":2.077},{"t":"2025-06-22T00:00","o":2.081,"h":2.103,"l":2.079,"c":2.101},{"t":"2025-06-29T00:00","o":2.098,"h":2.099,"l":2.077,"c":2.081},{"t":"2025-07-06T00:00","o":2.078,"h":2.091,"l":2.046,"c":2.049},{"t":"2025-07-13T00:00","o":2.06,"h":2.063,"l":2.044,"c":2.046},{"t":"2025-07-20T00:00","o":2.06,"h":2.07,"l":2.042,"c":2.044},{"t":"2025-07-27T00:00","o":2.04,"h":2.06,"l":2.038,"c":2.053},{"t":"2025-08-03T00:00","o":2.046,"h":2.074,"l":2.044,"c":2.063},{"t":"2025-08-10T00:00","o":2.058,"h":2.085,"l":2.056,"c":2.084},{"t":"2025-08-17T00:00","o":2.078,"h":2.099,"l":2.077,"c":2.084},{"t":"2025-08-24T00:00","o":2.083,"h":2.084,"l":2.06,"c":2.062},{"t":"2025-08-31T00:00","o":2.062,"h":2.067,"l":2.046,"c":2.051},{"t":"2025-09-07T00:00","o":2.058,"h":2.059,"l":2.034,"c":2.037},{"t":"2025-09-14T00:00","o":2.037,"h":2.051,"l":2.035,"c":2.049},{"t":"2025-09-21T00:00","o":2.037,"h":2.051,"l":2.034,"c":2.048},{"t":"2025-09-28T00:00","o":2.046,"h":2.048,"l":2.034,"c":2.037},{"t":"2025-10-05T00:00","o":2.041,"h":2.063,"l":2.024,"c":2.06},{"t":"2025-10-12T00:00","o":2.046,"h":2.084,"l":2.044,"c":2.067},{"t":"2025-10-19T00:00","o":2.067,"h":2.069,"l":2.041,"c":2.042},{"t":"2025-10-26T00:00","o":2.037,"h":2.039,"l":1.997,"c":2.004},{"t":"2025-11-02T00:00","o":2.032,"h":2.034,"l":2.001,"c":2.004},{"t":"2025-11-09T00:00","o":2.011,"h":2.025,"l":1.995,"c":2.023},{"t":"2025-11-16T00:00","o":2.011,"h":2.035,"l":2.01,"c":2.028},{"t":"2025-11-23T00:00","o":2.026,"h":2.047,"l":2.016,"c":2.018},{"t":"2025-11-30T00:00","o":2.022,"h":2.023,"l":2.001,"c":2.002},{"t":"2025-12-07T00:00","o":2.002,"h":2.015,"l":2.0,"c":2.011},{"t":"2025-12-14T00:00","o":2.009,"h":2.027,"l":2.008,"c":2.025},{"t":"2025-12-21T00:00","o":2.023,"h":2.025,"l":2.006,"c":2.008},{"t":"2025-12-28T00:00","o":2.02,"h":2.022,"l":2.003,"c":2.004},{"t":"2026-01-04T00:00","o":2.015,"h":2.018,"l":1.999,"c":2.001},{"t":"2026-01-11T00:00","o":2.011,"h":2.016,"l":1.995,"c":1.997},{"t":"2026-01-18T00:00","o":2.001,"h":2.002,"l":1.966,"c":1.969},{"t":"2026-01-25T00:00","o":1.976,"h":1.98,"l":1.951,"c":1.963},{"t":"2026-02-01T00:00","o":1.966,"h":1.969,"l":1.935,"c":1.937},{"t":"2026-02-08T00:00","o":1.937,"h":1.938,"l":1.924,"c":1.926},{"t":"2026-02-15T00:00","o":1.93,"h":1.931,"l":1.9,"c":1.902},{"t":"2026-02-22T00:00","o":1.907,"h":1.91,"l":1.883,"c":1.886},{"t":"2026-03-01T00:00","o":1.893,"h":1.907,"l":1.879,"c":1.905},{"t":"2026-03-08T00:00","o":1.909,"h":1.91,"l":1.87,"c":1.89},{"t":"2026-03-15T00:00","o":1.891,"h":1.938,"l":1.89,"c":1.924},{"t":"2026-03-22T00:00","o":1.93,"h":1.94,"l":1.899,"c":1.9},{"t":"2026-03-29T00:00","o":1.924,"h":1.931,"l":1.897,"c":1.9},{"t":"2026-04-05T00:00","o":1.91,"h":1.912,"l":1.89,"c":1.893},{"t":"2026-04-12T00:00","o":1.909,"h":1.91,"l":1.879,"c":1.881},{"t":"2026-04-19T00:00","o":1.883,"h":1.914,"l":1.881,"c":1.903},{"t":"2026-04-26T00:00","o":1.892,"h":1.893,"l":1.877,"c":1.879},{"t":"2026-05-03T00:00","o":1.886,"h":1.89,"l":1.871,"c":1.872},{"t":"2026-05-10T00:00","o":1.876,"h":1.879,"l":1.853,"c":1.858},{"t":"2026-05-17T00:00","o":1.858,"h":1.89,"l":1.857,"c":1.886},{"t":"2026-05-24T00:00","o":1.867,"h":1.89,"l":1.865,"c":1.881},{"t":"2026-05-31T00:00","o":1.87,"h":1.893,"l":1.869,"c":1.892},{"t":"2026-06-07T00:00","o":1.886,"h":1.91,"l":1.884,"c":1.902},{"t":"2026-06-14T00:00","o":1.902,"h":1.907,"l":1.881,"c":1.883},{"t":"2026-06-21T00:00","o":1.877,"h":1.917,"l":1.876,"c":1.914},{"t":"2026-06-28T00:00","o":1.916,"h":1.935,"l":1.914,"c":1.924},{"t":"2026-07-05T00:00","o":1.916,"h":1.935,"l":1.914,"c":1.926},{"t":"2026-07-12T00:00","o":1.917,"h":1.934,"l":1.915,"c":1.928},{"t":"2026-07-19T00:00","o":1.928,"h":1.931,"l":1.903,"c":1.905},{"t":"2026-07-26T00:00","o":1.902,"h":1.92,"l":1.899,"c":1.914}],
"s2":[{"t":"2025-06-08T00:00","e":"2026-10-05T00:00","y":1.9396,"k":"gryL"},{"t":"2026-03-22T00:00","e":"2026-10-05T00:00","y":1.929,"k":"red"},{"t":"2026-03-22T00:00","e":"2026-10-05T00:00","y":1.921,"k":"nav"},{"t":"2026-03-22T00:00","e":"2026-10-05T00:00","y":1.914,"k":"cya"},{"t":"2026-03-22T00:00","e":"2026-10-05T00:00","y":1.906,"k":"grn"},{"t":"2026-03-22T00:00","e":"2026-10-05T00:00","y":1.897,"k":"yel"},{"t":"2026-05-01T00:00","e":"2026-10-05T00:00","y":1.853,"k":"ros"},{"t":"2026-03-08T00:00","e":"2026-05-10T00:00","y":1.869,"k":"upL"}],
"z2":[{"t":"2026-01-23T00:00","e":"2026-10-05T00:00","y":1.994,"y2":1.98,"k":"lavL"},{"t":"2026-02-03T00:00","e":"2026-10-05T00:00","y":1.95,"y2":1.94,"k":"lavL"}],
"b2":[{"t":"2026-03-08T00:00","e":"2026-03-22T00:00","y":1.8465,"y2":1.8416,"k":"barY"},{"t":"2026-03-22T00:00","e":"2026-05-10T00:00","y":1.8465,"y2":1.8416,"k":"barG"}],
"d2":[{"t":"2025-06-08T00:00","y":1.9396,"k":"gryL"},{"t":"2026-10-05T00:00","y":1.9396,"k":"gryL"},{"t":"2026-03-22T00:00","y":1.9396,"k":"dotU"},{"t":"2026-03-08T00:00","y":1.869,"k":"dotD"},{"t":"2026-05-10T00:00","y":1.853,"k":"dotD"}],
"c3":[{"t":"2026-05-12T12:00","o":1.878,"h":1.88,"l":1.8692,"c":1.8697},{"t":"2026-05-13T11:00","o":1.8702,"h":1.8721,"l":1.8608,"c":1.8616},{"t":"2026-05-14T10:00","o":1.8633,"h":1.8697,"l":1.8591,"c":1.8599},{"t":"2026-05-15T09:00","o":1.8628,"h":1.8697,"l":1.855,"c":1.8555},{"t":"2026-05-16T08:00","o":1.855,"h":1.8628,"l":1.8542,"c":1.8628},{"t":"2026-05-17T07:00","o":1.8608,"h":1.8702,"l":1.8603,"c":1.8687},{"t":"2026-05-18T06:00","o":1.8648,"h":1.877,"l":1.8616,"c":1.875},{"t":"2026-05-19T05:00","o":1.8714,"h":1.8902,"l":1.8702,"c":1.8848},{"t":"2026-05-20T04:00","o":1.8841,"h":1.8873,"l":1.8763,"c":1.877},{"t":"2026-05-21T03:00","o":1.8844,"h":1.8878,"l":1.8755,"c":1.877},{"t":"2026-05-22T02:00","o":1.877,"h":1.8898,"l":1.8763,"c":1.8844},{"t":"2026-05-23T01:00","o":1.8763,"h":1.8861,"l":1.8755,"c":1.8848},{"t":"2026-05-24T00:00","o":1.8763,"h":1.8836,"l":1.8755,"c":1.8829},{"t":"2026-05-24T23:00","o":1.8763,"h":1.8844,"l":1.8755,"c":1.8829},{"t":"2026-05-25T22:00","o":1.875,"h":1.8834,"l":1.8746,"c":1.8812},{"t":"2026-05-26T21:00","o":1.8812,"h":1.8824,"l":1.8743,"c":1.8755},{"t":"2026-05-27T20:00","o":1.8746,"h":1.8836,"l":1.8738,"c":1.8829},{"t":"2026-05-28T19:00","o":1.8785,"h":1.88,"l":1.8726,"c":1.8738},{"t":"2026-05-29T18:00","o":1.877,"h":1.878,"l":1.8697,"c":1.8714},{"t":"2026-05-30T17:00","o":1.8726,"h":1.8812,"l":1.8714,"c":1.8795},{"t":"2026-05-31T16:00","o":1.8746,"h":1.8804,"l":1.8738,"c":1.8795},{"t":"2026-06-01T15:00","o":1.8787,"h":1.88,"l":1.8743,"c":1.875},{"t":"2026-06-02T14:00","o":1.875,"h":1.8831,"l":1.8743,"c":1.8824},{"t":"2026-06-03T13:00","o":1.8787,"h":1.8829,"l":1.878,"c":1.8817},{"t":"2026-06-04T12:00","o":1.8795,"h":1.8844,"l":1.8787,"c":1.8824},{"t":"2026-06-05T11:00","o":1.8795,"h":1.8942,"l":1.8787,"c":1.8934},{"t":"2026-06-06T10:00","o":1.8848,"h":1.8959,"l":1.8841,"c":1.8947},{"t":"2026-06-07T09:00","o":1.8959,"h":1.8971,"l":1.8878,"c":1.8922},{"t":"2026-06-08T08:00","o":1.8917,"h":1.9064,"l":1.891,"c":1.9049},{"t":"2026-06-09T07:00","o":1.8983,"h":1.9118,"l":1.8971,"c":1.9106},{"t":"2026-06-10T06:00","o":1.9008,"h":1.9113,"l":1.9,"c":1.9098},{"t":"2026-06-11T05:00","o":1.9106,"h":1.9118,"l":1.9015,"c":1.9025},{"t":"2026-06-12T04:00","o":1.9074,"h":1.9081,"l":1.9008,"c":1.9015},{"t":"2026-06-13T03:00","o":1.9057,"h":1.9069,"l":1.8991,"c":1.9},{"t":"2026-06-14T02:00","o":1.902,"h":1.9032,"l":1.8947,"c":1.8951},{"t":"2026-06-15T01:00","o":1.8959,"h":1.9015,"l":1.8951,"c":1.9008},{"t":"2026-06-16T00:00","o":1.9,"h":1.9008,"l":1.8942,"c":1.8947},{"t":"2026-06-16T23:00","o":1.8976,"h":1.8983,"l":1.891,"c":1.8917},{"t":"2026-06-17T22:00","o":1.8942,"h":1.8947,"l":1.8809,"c":1.8817},{"t":"2026-06-18T21:00","o":1.8795,"h":1.8873,"l":1.879,"c":1.8868},{"t":"2026-06-19T20:00","o":1.8795,"h":1.8885,"l":1.879,"c":1.8878},{"t":"2026-06-20T19:00","o":1.8795,"h":1.8927,"l":1.8787,"c":1.8917},{"t":"2026-06-21T18:00","o":1.8873,"h":1.8991,"l":1.8861,"c":1.8976},{"t":"2026-06-22T17:00","o":1.8966,"h":1.9089,"l":1.8956,"c":1.9081},{"t":"2026-06-23T16:00","o":1.9057,"h":1.913,"l":1.9044,"c":1.9094},{"t":"2026-06-24T15:00","o":1.9069,"h":1.9138,"l":1.9057,"c":1.9123},{"t":"2026-06-25T14:00","o":1.9074,"h":1.9143,"l":1.9064,"c":1.913},{"t":"2026-06-26T13:00","o":1.9106,"h":1.9167,"l":1.9094,"c":1.9138},{"t":"2026-06-27T12:00","o":1.9138,"h":1.9253,"l":1.913,"c":1.9245},{"t":"2026-06-28T11:00","o":1.9143,"h":1.926,"l":1.9135,"c":1.9253},{"t":"2026-06-29T10:00","o":1.9245,"h":1.927,"l":1.9143,"c":1.9147},{"t":"2026-06-30T09:00","o":1.9228,"h":1.927,"l":1.9216,"c":1.9253},{"t":"2026-07-01T08:00","o":1.9228,"h":1.9358,"l":1.9216,"c":1.927},{"t":"2026-07-02T07:00","o":1.9228,"h":1.9294,"l":1.9221,"c":1.9277},{"t":"2026-07-03T06:00","o":1.9221,"h":1.9285,"l":1.9211,"c":1.9277},{"t":"2026-07-04T05:00","o":1.9204,"h":1.9265,"l":1.9196,"c":1.9245},{"t":"2026-07-05T04:00","o":1.9211,"h":1.927,"l":1.9204,"c":1.9253},{"t":"2026-07-06T03:00","o":1.9228,"h":1.9289,"l":1.9221,"c":1.9277},{"t":"2026-07-07T02:00","o":1.924,"h":1.9334,"l":1.9233,"c":1.9314},{"t":"2026-07-08T01:00","o":1.9326,"h":1.9351,"l":1.9285,"c":1.929},{"t":"2026-07-09T00:00","o":1.9326,"h":1.9338,"l":1.9277,"c":1.9285},{"t":"2026-07-09T23:00","o":1.9314,"h":1.9326,"l":1.9245,"c":1.9253},{"t":"2026-07-10T22:00","o":1.9253,"h":1.9334,"l":1.9245,"c":1.9309},{"t":"2026-07-11T21:00","o":1.9253,"h":1.9314,"l":1.9245,"c":1.9289},{"t":"2026-07-12T20:00","o":1.9289,"h":1.9294,"l":1.9167,"c":1.9179},{"t":"2026-07-13T19:00","o":1.9192,"h":1.9338,"l":1.9184,"c":1.9314},{"t":"2026-07-14T18:00","o":1.9302,"h":1.9351,"l":1.9236,"c":1.924},{"t":"2026-07-15T17:00","o":1.9289,"h":1.9302,"l":1.924,"c":1.9253},{"t":"2026-07-16T16:00","o":1.9245,"h":1.9285,"l":1.9238,"c":1.9277},{"t":"2026-07-17T15:00","o":1.9294,"h":1.9302,"l":1.9179,"c":1.9187},{"t":"2026-07-18T14:00","o":1.9187,"h":1.9192,"l":1.9138,"c":1.9147},{"t":"2026-07-19T13:00","o":1.9147,"h":1.9155,"l":1.9069,"c":1.9081},{"t":"2026-07-20T12:00","o":1.9081,"h":1.9138,"l":1.9074,"c":1.9123},{"t":"2026-07-21T11:00","o":1.9081,"h":1.913,"l":1.9074,"c":1.9123},{"t":"2026-07-22T10:00","o":1.9074,"h":1.9118,"l":1.9069,"c":1.9111},{"t":"2026-07-23T09:00","o":1.9098,"h":1.9106,"l":1.9032,"c":1.904},{"t":"2026-07-24T08:00","o":1.9074,"h":1.9081,"l":1.9008,"c":1.902},{"t":"2026-07-25T07:00","o":1.9044,"h":1.9057,"l":1.9,"c":1.9008},{"t":"2026-07-26T06:00","o":1.9015,"h":1.9094,"l":1.9005,"c":1.9081},{"t":"2026-07-27T05:00","o":1.9032,"h":1.9216,"l":1.9025,"c":1.9211},{"t":"2026-07-28T04:00","o":1.9098,"h":1.9216,"l":1.9094,"c":1.9211},{"t":"2026-07-29T03:00","o":1.9204,"h":1.9211,"l":1.9118,"c":1.913},{"t":"2026-07-30T02:00","o":1.9179,"h":1.9192,"l":1.9128,"c":1.9138},{"t":"2026-07-31T01:00","o":1.9179,"h":1.9192,"l":1.9128,"c":1.9138},{"t":"2026-08-01T00:00","o":1.913,"h":1.9255,"l":1.9118,"c":1.9187}],
"s3":[{"t":"2026-05-12T12:00","e":"2026-09-10T22:00","y":1.9397,"k":"blu"},{"t":"2026-05-16T12:00","e":"2026-09-10T22:00","y":1.8501,"k":"blu"},{"t":"2026-05-12T12:00","e":"2026-05-16T12:00","y":1.8501,"k":"gryL"},{"t":"2026-05-16T12:00","e":"2026-09-10T22:00","y":1.897,"k":"lav"}],
"z3":[{"t":"2026-07-28T08:00","e":"2026-09-10T22:00","y":1.9093,"y2":1.8787,"k":"grnZ"},{"t":"2026-06-21T22:00","e":"2026-07-28T08:00","y":1.891,"y2":1.8787,"k":"grnZ"},{"t":"2026-06-13T14:00","e":"2026-09-10T22:00","y":1.8991,"y2":1.8947,"k":"lav"},{"t":"2026-06-21T22:00","e":"2026-09-10T22:00","y":1.8902,"y2":1.8883,"k":"lav"},{"t":"2026-05-18T12:00","e":"2026-09-10T22:00","y":1.8692,"y2":1.8687,"k":"lavX"},{"t":"2026-07-29T00:00","e":"2026-09-10T22:00","y":1.9106,"y2":1.9093,"k":"lavL"}],
"d3":[{"t":"2026-05-12T12:00","y":1.9397,"k":"blu"},{"t":"2026-09-10T22:00","y":1.9397,"k":"blu"},{"t":"2026-05-16T12:00","y":1.8501,"k":"dotD"}],
"c4":[{"t":"2026-07-23T10:00","o":1.91305,"h":1.9132,"l":1.90619,"c":1.90783},{"t":"2026-07-23T14:00","o":1.90783,"h":1.91022,"l":1.90671,"c":1.90992},{"t":"2026-07-23T18:00","o":1.90895,"h":1.91216,"l":1.90858,"c":1.91193},{"t":"2026-07-23T22:00","o":1.91193,"h":1.9132,"l":1.90798,"c":1.91007},{"t":"2026-07-24T02:00","o":1.90917,"h":1.91193,"l":1.90895,"c":1.91096},{"t":"2026-07-24T06:00","o":1.90895,"h":1.91082,"l":1.90873,"c":1.91067},{"t":"2026-07-24T10:00","o":1.91007,"h":1.91067,"l":1.90843,"c":1.90858},{"t":"2026-07-24T14:00","o":1.90992,"h":1.91044,"l":1.90783,"c":1.9082},{"t":"2026-07-24T18:00","o":1.90947,"h":1.90992,"l":1.90783,"c":1.90798},{"t":"2026-07-24T22:00","o":1.90858,"h":1.90917,"l":1.90582,"c":1.90597},{"t":"2026-07-25T02:00","o":1.90619,"h":1.90783,"l":1.9041,"c":1.90768},{"t":"2026-07-25T06:00","o":1.90671,"h":1.90783,"l":1.90649,"c":1.90746},{"t":"2026-07-25T10:00","o":1.90783,"h":1.91007,"l":1.90656,"c":1.90671},{"t":"2026-07-25T14:00","o":1.90671,"h":1.90858,"l":1.90649,"c":1.90843},{"t":"2026-07-25T18:00","o":1.90224,"h":1.90932,"l":1.90201,"c":1.9091},{"t":"2026-07-25T22:00","o":1.90224,"h":1.90947,"l":1.90209,"c":1.90917},{"t":"2026-07-26T02:00","o":1.90932,"h":1.90947,"l":1.90746,"c":1.90783},{"t":"2026-07-26T06:00","o":1.90798,"h":1.90798,"l":1.90425,"c":1.90448},{"t":"2026-07-26T10:00","o":1.90448,"h":1.90671,"l":1.9041,"c":1.90634},{"t":"2026-07-26T14:00","o":1.90448,"h":1.90485,"l":1.90186,"c":1.90261},{"t":"2026-07-26T18:00","o":1.90276,"h":1.90298,"l":1.90097,"c":1.90127},{"t":"2026-07-26T22:00","o":1.90201,"h":1.90224,"l":1.90037,"c":1.90052},{"t":"2026-07-27T02:00","o":1.90075,"h":1.90201,"l":1.9,"c":1.90171},{"t":"2026-07-27T06:00","o":1.90037,"h":1.90261,"l":1.89977,"c":1.90246},{"t":"2026-07-27T10:00","o":1.90224,"h":1.90694,"l":1.90037,"c":1.90671},{"t":"2026-07-27T14:00","o":1.90574,"h":1.90783,"l":1.90448,"c":1.90686},{"t":"2026-07-27T18:00","o":1.90634,"h":1.90873,"l":1.90612,"c":1.90798},{"t":"2026-07-27T22:00","o":1.90671,"h":1.9082,"l":1.90649,"c":1.90783},{"t":"2026-07-28T02:00","o":1.90746,"h":1.90858,"l":1.90724,"c":1.9082},{"t":"2026-07-28T06:00","o":1.90873,"h":1.90895,"l":1.90448,"c":1.90448},{"t":"2026-07-28T10:00","o":1.9047,"h":1.90597,"l":1.90448,"c":1.90545},{"t":"2026-07-28T14:00","o":1.90448,"h":1.90746,"l":1.90321,"c":1.90709},{"t":"2026-07-28T18:00","o":1.9041,"h":1.90932,"l":1.90321,"c":1.90895},{"t":"2026-07-28T22:00","o":1.90597,"h":1.91641,"l":1.90574,"c":1.91619},{"t":"2026-07-29T02:00","o":1.9138,"h":1.91641,"l":1.91268,"c":1.91619},{"t":"2026-07-29T06:00","o":1.9138,"h":1.91641,"l":1.91343,"c":1.91604},{"t":"2026-07-29T10:00","o":1.91619,"h":1.91641,"l":1.91246,"c":1.91268},{"t":"2026-07-29T14:00","o":1.91231,"h":1.91902,"l":1.91193,"c":1.9179},{"t":"2026-07-29T18:00","o":1.91619,"h":1.92201,"l":1.91567,"c":1.92126},{"t":"2026-07-29T22:00","o":1.91865,"h":1.92216,"l":1.91678,"c":1.92186},{"t":"2026-07-30T02:00","o":1.92066,"h":1.92201,"l":1.91902,"c":1.91939},{"t":"2026-07-30T06:00","o":1.91865,"h":1.92014,"l":1.91843,"c":1.91962},{"t":"2026-07-30T10:00","o":1.91843,"h":1.92014,"l":1.91813,"c":1.91977},{"t":"2026-07-30T14:00","o":1.91977,"h":1.92066,"l":1.91828,"c":1.91865},{"t":"2026-07-30T18:00","o":1.91902,"h":1.92014,"l":1.91619,"c":1.91641},{"t":"2026-07-30T22:00","o":1.91716,"h":1.91865,"l":1.91455,"c":1.91589},{"t":"2026-07-31T02:00","o":1.91693,"h":1.91753,"l":1.9138,"c":1.91567},{"t":"2026-07-31T06:00","o":1.91619,"h":1.91716,"l":1.91343,"c":1.91529},{"t":"2026-07-31T10:00","o":1.91604,"h":1.91641,"l":1.91358,"c":1.9138},{"t":"2026-07-31T14:00","o":1.91619,"h":1.91663,"l":1.9132,"c":1.9138},{"t":"2026-07-31T18:00","o":1.9138,"h":1.91641,"l":1.91343,"c":1.91492},{"t":"2026-07-31T22:00","o":1.91455,"h":1.91492,"l":1.91096,"c":1.91119},{"t":"2026-08-01T02:00","o":1.91119,"h":1.91455,"l":1.91082,"c":1.91417},{"t":"2026-08-01T06:00","o":1.91156,"h":1.91492,"l":1.91119,"c":1.9144},{"t":"2026-08-01T10:00","o":1.91343,"h":1.9179,"l":1.91231,"c":1.91641},{"t":"2026-08-01T14:00","o":1.91417,"h":1.91678,"l":1.91193,"c":1.91641},{"t":"2026-08-01T18:00","o":1.91455,"h":1.91641,"l":1.9138,"c":1.91604},{"t":"2026-08-01T22:00","o":1.91417,"h":1.91604,"l":1.91306,"c":1.91567},{"t":"2026-08-02T02:00","o":1.91455,"h":1.91678,"l":1.91417,"c":1.91663},{"t":"2026-08-02T06:00","o":1.91455,"h":1.91678,"l":1.91417,"c":1.91641},{"t":"2026-08-02T10:00","o":1.91604,"h":1.91992,"l":1.91492,"c":1.91939},{"t":"2026-08-02T14:00","o":1.91865,"h":1.92387,"l":1.91753,"c":1.92201},{"t":"2026-08-02T18:00","o":1.91939,"h":1.92424,"l":1.91917,"c":1.92387},{"t":"2026-08-02T22:00","o":1.9235,"h":1.92589,"l":1.91813,"c":1.91843},{"t":"2026-08-03T02:00","o":1.9188,"h":1.91902,"l":1.9179,"c":1.91828},{"t":"2026-08-03T06:00","o":1.91828,"h":1.91902,"l":1.91813,"c":1.91887},{"t":"2026-08-03T10:00","o":1.91641,"h":1.91902,"l":1.91604,"c":1.91843},{"t":"2026-08-03T14:00","o":1.91768,"h":1.9179,"l":1.91268,"c":1.91291},{"t":"2026-08-03T18:00","o":1.91455,"h":1.91492,"l":1.91193,"c":1.91231},{"t":"2026-08-03T22:00","o":1.91193,"h":1.91455,"l":1.91171,"c":1.91417},{"t":"2026-08-04T02:00","o":1.91395,"h":1.91417,"l":1.91082,"c":1.91096},{"t":"2026-08-04T06:00","o":1.91156,"h":1.91193,"l":1.91007,"c":1.91022},{"t":"2026-08-04T10:00","o":1.91082,"h":1.91096,"l":1.90947,"c":1.9097},{"t":"2026-08-04T14:00","o":1.91022,"h":1.91044,"l":1.90798,"c":1.9082},{"t":"2026-08-04T18:00","o":1.90746,"h":1.9097,"l":1.90731,"c":1.90947},{"t":"2026-08-04T22:00","o":1.90746,"h":1.91007,"l":1.90724,"c":1.9097},{"t":"2026-08-05T02:00","o":1.90992,"h":1.91022,"l":1.90746,"c":1.90858},{"t":"2026-08-05T06:00","o":1.90858,"h":1.91096,"l":1.90843,"c":1.91044},{"t":"2026-08-05T10:00","o":1.91007,"h":1.91231,"l":1.90985,"c":1.91193},{"t":"2026-08-05T14:00","o":1.91022,"h":1.91283,"l":1.91007,"c":1.91268},{"t":"2026-08-05T18:00","o":1.91141,"h":1.91156,"l":1.90798,"c":1.9082},{"t":"2026-08-05T22:00","o":1.90858,"h":1.90873,"l":1.90768,"c":1.90783},{"t":"2026-08-06T02:00","o":1.90843,"h":1.90858,"l":1.90724,"c":1.90746},{"t":"2026-08-06T06:00","o":1.90671,"h":1.90873,"l":1.90597,"c":1.90843}],
"s4":[{"t":"2026-07-23T10:00","e":"2026-08-08T13:00","y":1.9259,"k":"pnkL"},{"t":"2026-08-02T23:00","e":"2026-08-08T13:00","y":1.92357,"k":"red"},{"t":"2026-08-02T23:00","e":"2026-08-08T13:00","y":1.92163,"k":"nav"},{"t":"2026-08-02T23:00","e":"2026-08-08T13:00","y":1.91999,"k":"cya"},{"t":"2026-08-02T23:00","e":"2026-08-08T13:00","y":1.9182,"k":"grn"},{"t":"2026-08-02T23:00","e":"2026-08-08T13:00","y":1.91596,"k":"yel"},{"t":"2026-08-06T05:00","e":"2026-08-08T13:00","y":1.90589,"k":"pnkL"},{"t":"2026-07-23T10:00","e":"2026-07-25T05:00","y":1.90619,"k":"upL"},{"t":"2026-07-26T00:00","e":"2026-07-26T16:00","y":1.90186,"k":"upL"},{"t":"2026-07-30T05:00","e":"2026-08-02T19:00","y":1.92015,"k":"upL"},{"t":"2026-07-26T06:00","e":"2026-07-29T00:00","y":1.90925,"k":"dnL"},{"t":"2026-08-01T07:00","e":"2026-08-04T04:00","y":1.91082,"k":"dnL"}],
"z4":[{"t":"2026-08-03T19:00","e":"2026-08-08T13:00","y":1.9182,"y2":1.91566,"k":"pnkZ"},{"t":"2026-08-03T19:00","e":"2026-08-08T13:00","y":1.91566,"y2":1.91492,"k":"lavL"},{"t":"2026-08-05T14:00","e":"2026-08-08T13:00","y":1.91283,"y2":1.91007,"k":"pnkZ"},{"t":"2026-08-05T14:00","e":"2026-08-08T13:00","y":1.91007,"y2":1.90895,"k":"lavL"},{"t":"2026-07-29T00:00","e":"2026-08-08T13:00","y":1.90597,"y2":1.90582,"k":"lavX"}],
"b4":[{"t":"2026-07-23T12:00","e":"2026-07-24T02:00","y":1.89915,"y2":1.89875,"k":"barY"},{"t":"2026-07-24T02:00","e":"2026-07-26T00:00","y":1.89915,"y2":1.89875,"k":"barG"},{"t":"2026-07-26T00:00","e":"2026-07-26T06:00","y":1.89915,"y2":1.89875,"k":"barY"},{"t":"2026-07-26T06:00","e":"2026-07-27T09:00","y":1.89915,"y2":1.89875,"k":"barG"},{"t":"2026-07-27T09:00","e":"2026-07-30T05:00","y":1.89915,"y2":1.89875,"k":"barB"},{"t":"2026-07-30T05:00","e":"2026-08-01T07:00","y":1.89915,"y2":1.89875,"k":"barY"},{"t":"2026-08-01T07:00","e":"2026-08-02T23:00","y":1.89915,"y2":1.89875,"k":"barG"},{"t":"2026-08-02T23:00","e":"2026-08-06T05:00","y":1.89915,"y2":1.89875,"k":"barB"}],
"d4":[{"t":"2026-07-23T10:00","y":1.9259,"k":"pnkL"},{"t":"2026-08-08T13:00","y":1.9259,"k":"pnkL"},{"t":"2026-07-24T02:00","y":1.91313,"k":"dotU"},{"t":"2026-07-26T06:00","y":1.90925,"k":"dotU"},{"t":"2026-07-30T05:00","y":1.92015,"k":"dotU"},{"t":"2026-08-02T23:00","y":1.9259,"k":"dotU"},{"t":"2026-07-23T10:00","y":1.90619,"k":"dotD"},{"t":"2026-07-26T00:00","y":1.90186,"k":"dotD"},{"t":"2026-07-27T09:00","y":1.89977,"k":"dotD"},{"t":"2026-08-01T07:00","y":1.91082,"k":"dotD"},{"t":"2026-08-06T05:00","y":1.90597,"k":"dotD"}],
"c6":[{"t":"2026-08-03T20:00","o":1.91893,"h":1.919,"l":1.91714,"c":1.91768},{"t":"2026-08-03T21:00","o":1.91786,"h":1.91804,"l":1.91439,"c":1.91447},{"t":"2026-08-03T22:00","o":1.91457,"h":1.91464,"l":1.91357,"c":1.91375},{"t":"2026-08-03T23:00","o":1.91393,"h":1.91404,"l":1.91243,"c":1.91268},{"t":"2026-08-04T00:00","o":1.913,"h":1.91314,"l":1.91232,"c":1.91268},{"t":"2026-08-04T01:00","o":1.91293,"h":1.91314,"l":1.91214,"c":1.9125},{"t":"2026-08-04T02:00","o":1.91268,"h":1.91518,"l":1.91222,"c":1.91447},{"t":"2026-08-04T03:00","o":1.91314,"h":1.91472,"l":1.91304,"c":1.91464},{"t":"2026-08-04T04:00","o":1.91464,"h":1.91472,"l":1.91339,"c":1.91375},{"t":"2026-08-04T05:00","o":1.91422,"h":1.91429,"l":1.91261,"c":1.91268},{"t":"2026-08-04T06:00","o":1.91293,"h":1.91304,"l":1.91143,"c":1.91161},{"t":"2026-08-04T07:00","o":1.91161,"h":1.91222,"l":1.91143,"c":1.91207},{"t":"2026-08-04T08:00","o":1.91214,"h":1.913,"l":1.91089,"c":1.91107},{"t":"2026-08-04T09:00","o":1.91125,"h":1.91143,"l":1.91065,"c":1.91072},{"t":"2026-08-04T10:00","o":1.91107,"h":1.91115,"l":1.91007,"c":1.91036},{"t":"2026-08-04T11:00","o":1.91043,"h":1.91222,"l":1.91036,"c":1.91197},{"t":"2026-08-04T12:00","o":1.91186,"h":1.91197,"l":1.91029,"c":1.91036},{"t":"2026-08-04T13:00","o":1.91047,"h":1.91054,"l":1.909,"c":1.90911},{"t":"2026-08-04T14:00","o":1.90965,"h":1.90982,"l":1.90875,"c":1.90886},{"t":"2026-08-04T15:00","o":1.90929,"h":1.90947,"l":1.90829,"c":1.9084},{"t":"2026-08-04T16:00","o":1.90857,"h":1.90911,"l":1.9085,"c":1.90893},{"t":"2026-08-04T17:00","o":1.90768,"h":1.90965,"l":1.90768,"c":1.90804},{"t":"2026-08-04T18:00","o":1.90829,"h":1.90911,"l":1.90768,"c":1.90779},{"t":"2026-08-04T19:00","o":1.90804,"h":1.90875,"l":1.90793,"c":1.90875},{"t":"2026-08-04T20:00","o":1.90804,"h":1.90972,"l":1.90757,"c":1.90965},{"t":"2026-08-04T21:00","o":1.90972,"h":1.91,"l":1.90875,"c":1.90886},{"t":"2026-08-04T22:00","o":1.9085,"h":1.91036,"l":1.9084,"c":1.909},{"t":"2026-08-04T23:00","o":1.909,"h":1.90918,"l":1.90829,"c":1.9085},{"t":"2026-08-05T00:00","o":1.90768,"h":1.90893,"l":1.9075,"c":1.90886},{"t":"2026-08-05T01:00","o":1.90875,"h":1.90957,"l":1.90865,"c":1.90947},{"t":"2026-08-05T02:00","o":1.90907,"h":1.91054,"l":1.909,"c":1.91043},{"t":"2026-08-05T03:00","o":1.91018,"h":1.91143,"l":1.91007,"c":1.91107},{"t":"2026-08-05T04:00","o":1.91107,"h":1.91115,"l":1.91018,"c":1.91036},{"t":"2026-08-05T05:00","o":1.91018,"h":1.9115,"l":1.91007,"c":1.91125},{"t":"2026-08-05T06:00","o":1.91107,"h":1.91232,"l":1.91089,"c":1.91214},{"t":"2026-08-05T07:00","o":1.91232,"h":1.91293,"l":1.91161,"c":1.91172},{"t":"2026-08-05T08:00","o":1.91222,"h":1.91268,"l":1.91143,"c":1.91161},{"t":"2026-08-05T09:00","o":1.91136,"h":1.9115,"l":1.90865,"c":1.90875},{"t":"2026-08-05T10:00","o":1.90893,"h":1.90993,"l":1.90815,"c":1.90982},{"t":"2026-08-05T11:00","o":1.90982,"h":1.91,"l":1.9085,"c":1.90857},{"t":"2026-08-05T12:00","o":1.9085,"h":1.90965,"l":1.9084,"c":1.90957},{"t":"2026-08-05T13:00","o":1.90936,"h":1.90947,"l":1.90757,"c":1.90768},{"t":"2026-08-05T14:00","o":1.90779,"h":1.90786,"l":1.90722,"c":1.90732},{"t":"2026-08-05T15:00","o":1.9075,"h":1.9084,"l":1.90743,"c":1.90829},{"t":"2026-08-05T16:00","o":1.9084,"h":1.9085,"l":1.90793,"c":1.90804},{"t":"2026-08-05T17:00","o":1.90625,"h":1.90815,"l":1.90615,"c":1.90697},{"t":"2026-08-05T18:00","o":1.90715,"h":1.9084,"l":1.90707,"c":1.90779},{"t":"2026-08-05T19:00","o":1.90722,"h":1.90875,"l":1.90715,"c":1.90779},{"t":"2026-08-05T20:00","o":1.90875,"h":1.90893,"l":1.90779,"c":1.90786},{"t":"2026-08-05T21:00","o":1.90786,"h":1.90886,"l":1.90779,"c":1.90857},{"t":"2026-08-05T22:00","o":1.90865,"h":1.909,"l":1.90822,"c":1.90829},{"t":"2026-08-05T23:00","o":1.9085,"h":1.91007,"l":1.9084,"c":1.91},{"t":"2026-08-06T00:00","o":1.91043,"h":1.91061,"l":1.90965,"c":1.90972},{"t":"2026-08-06T01:00","o":1.90965,"h":1.91043,"l":1.90957,"c":1.91029},{"t":"2026-08-06T02:00","o":1.91036,"h":1.91161,"l":1.91018,"c":1.91143},{"t":"2026-08-06T03:00","o":1.91107,"h":1.91268,"l":1.91065,"c":1.91257},{"t":"2026-08-06T04:00","o":1.9125,"h":1.91268,"l":1.911,"c":1.91107},{"t":"2026-08-06T05:00","o":1.9115,"h":1.91197,"l":1.91065,"c":1.91072},{"t":"2026-08-06T06:00","o":1.91072,"h":1.91161,"l":1.91065,"c":1.9115},{"t":"2026-08-06T07:00","o":1.91136,"h":1.91293,"l":1.91125,"c":1.91232}],
"s6":[{"t":"2026-08-03T20:00","e":"2026-08-06T17:00","y":1.91293,"k":"gryL"},{"t":"2026-08-05T07:00","e":"2026-08-06T07:00","y":1.91293,"k":"dnL"},{"t":"2026-08-05T17:00","e":"2026-08-06T17:00","y":1.9095,"k":"yel"},{"t":"2026-08-05T17:00","e":"2026-08-06T17:00","y":1.90872,"k":"grn"},{"t":"2026-08-05T17:00","e":"2026-08-06T17:00","y":1.90815,"k":"cya"},{"t":"2026-08-05T17:00","e":"2026-08-06T17:00","y":1.90758,"k":"nav"},{"t":"2026-08-05T17:00","e":"2026-08-06T17:00","y":1.90686,"k":"red"},{"t":"2026-08-05T17:00","e":"2026-08-06T17:00","y":1.90607,"k":"ros"},{"t":"2026-08-04T01:00","e":"2026-08-04T06:00","y":1.91214,"k":"upL"},{"t":"2026-08-04T10:00","e":"2026-08-04T13:00","y":1.91007,"k":"upL"},{"t":"2026-08-04T20:00","e":"2026-08-05T00:00","y":1.90761,"k":"upL"},{"t":"2026-08-04T22:00","e":"2026-08-05T02:00","y":1.91036,"k":"dnL"},{"t":"2026-08-05T00:00","e":"2026-08-05T14:00","y":1.90747,"k":"dnL"}],
"z6":[{"t":"2026-08-03T21:00","e":"2026-08-06T17:00","y":1.91846,"y2":1.91811,"k":"lavL"},{"t":"2026-08-03T22:00","e":"2026-08-06T17:00","y":1.91703,"y2":1.91536,"k":"lavL"},{"t":"2026-08-04T02:00","e":"2026-08-06T17:00","y":1.91304,"y2":1.91279,"k":"lavL"},{"t":"2026-08-06T07:15","e":"2026-08-06T17:00","y":1.91207,"y2":1.91054,"k":"grnZ"},{"t":"2026-08-05T23:30","e":"2026-08-06T17:00","y":1.90929,"y2":1.90804,"k":"grnZ"}],
"b6":[{"t":"2026-08-04T01:00","e":"2026-08-04T02:00","y":1.90572,"y2":1.90552,"k":"barY"},{"t":"2026-08-04T02:00","e":"2026-08-04T10:00","y":1.90572,"y2":1.90552,"k":"barG"},{"t":"2026-08-04T10:00","e":"2026-08-04T11:00","y":1.90572,"y2":1.90552,"k":"barY"},{"t":"2026-08-04T11:00","e":"2026-08-04T20:00","y":1.90572,"y2":1.90552,"k":"barG"},{"t":"2026-08-04T20:00","e":"2026-08-04T22:00","y":1.90572,"y2":1.90552,"k":"barY"},{"t":"2026-08-04T22:00","e":"2026-08-05T00:00","y":1.90572,"y2":1.90552,"k":"barG"},{"t":"2026-08-05T00:00","e":"2026-08-05T07:00","y":1.90572,"y2":1.90552,"k":"barB"},{"t":"2026-08-05T07:00","e":"2026-08-05T17:00","y":1.90572,"y2":1.90552,"k":"barB"},{"t":"2026-08-05T17:00","e":"2026-08-06T07:00","y":1.90572,"y2":1.90552,"k":"barB"}],
"d6":[{"t":"2026-08-03T20:00","y":1.91293,"k":"gryL"},{"t":"2026-08-06T17:00","y":1.91293,"k":"gryL"},{"t":"2026-08-04T02:00","y":1.91518,"k":"dotU"},{"t":"2026-08-04T11:00","y":1.91222,"k":"dotU"},{"t":"2026-08-04T22:00","y":1.91036,"k":"dotU"},{"t":"2026-08-05T07:00","y":1.91293,"k":"dotU"},{"t":"2026-08-06T07:00","y":1.91293,"k":"dotU"},{"t":"2026-08-04T01:00","y":1.91214,"k":"dotD"},{"t":"2026-08-04T10:00","y":1.91007,"k":"dotD"},{"t":"2026-08-04T20:00","y":1.90761,"k":"dotD"},{"t":"2026-08-05T00:00","y":1.90747,"k":"dotD"},{"t":"2026-08-05T17:00","y":1.90607,"k":"dotD"}],
"txt":[{"line":0,"text":"-------------------------------------------------------------------------"},{"line":2,"text":"-------------------------------------------------------------------------"},{"line":11,"text":"-------------------------------------------------------------------------"},{"line":13,"text":"-------------------------------------------------------------------------"},{"line":14,"text":"1mn ## BEAR 📉 + DISCOUNT 💸(⬆) = [ ⚠ 👁 ] ## REV 🟦"},{"line":15,"text":"1w ## BEAR 📉 + PREMIUM 💰(⬇) = [ 🎯 ⬇ ] ## EXP 🟩"},{"line":16,"text":"1d ## BEAR 📉 + PREMIUM 💰(⬇) = [ 🎯 ⬇ ] ## REV 🟦"},{"line":17,"text":"4h ## BEAR 📉 + DISCOUNT 💸(⬆) = [ ⚠ 👁 ] ## REV 🟦"},{"line":18,"text":"1h ## BULL 📈 + PREMIUM 💰(⬇) = [ ⚠ 👁 ] ## REV 🟦"},{"line":19,"text":"-------------------------------------------------------------------------"},{"line":20,"text":"-------------------------------------------------------------------------"},{"line":22,"text":"-------------------------------------------------------------------------"},{"line":23,"text":"-------------------------------------------------------------------------"},{"line":25,"text":"-------------------------------------------------------------------------"},{"line":26,"text":"🏁 Résultat de la position 🏁"},{"line":27,"text":"⛔⛔⛔⛔⛔"},{"line":28,"text":"La position ["},{"line":29,"text":"'Broker': 'ICM_TRADINGYDI_',"},{"line":30,"text":"'NY Time': '2026-08-06 08:51:08',"},{"line":31,"text":"'ticket': '173548739',"},{"line":32,"text":"'symbol': 'GBPAUD',"},{"line":33,"text":"'type': 'SELL',"},{"line":34,"text":"'price': 1.91126,"},{"line":35,"text":"'stopLoss': 1.9135399999999997,"},{"line":36,"text":"'takeProfit': 1.90604,"},{"line":37,"text":"'risk': 1,"},{"line":38,"text":"'commissionPerLot': 7.0,"},{"line":39,"text":"'volume': 0.05,"},{"line":40,"text":"'sl': 1.9135399999999997,"},{"line":41,"text":"'tp': 1.90604,"},{"line":42,"text":"'signal': True,"},{"line":43,"text":"'comment': 4h.KB.M2B.STR,"},{"line":44,"text":"'strategy_model': 'TRADINGYDI',"},{"line":45,"text":"'strategy_name': '(BLOCK-KLINE,BLOCK,202422,SELL,1,-1,0,GBPAUD,0,4h,0)']"},{"line":46,"text":"s'est terminée avec un SL"},{"line":47,"text":"⛔⛔⛔⛔⛔"},{"line":48,"text":"-------------------------------------------------------------------------"}],
"txt1":[{"line":1,"text":"⏱️ INSTANT - 2026-08-06 08:49:59.999000064-04:00 ⏱️"}],
"txt2":[{"line":3,"text":"❔ ⚙ LEGEND ⚙ ❔"}],
"txt3":[{"line":4,"text":"[⚠ 👁 ] = AUCUNE ENTREE ATTENDUE"},{"line":5,"text":"[🎯 ⬆] = ENTREE EN ACHAT"},{"line":6,"text":"[🎯 ⬇] = ENTREE EN VENTE"},{"line":7,"text":"[EXP 🟩] = EXPANSION (🟩)"},{"line":8,"text":"[RET 🟨] = RETRACEMENT (🟨)"},{"line":9,"text":"[REV 🟦] = RENVERSEMENT (🟦)"},{"line":10,"text":"[CON 🟧] = CONSOLIDATION (🟧)"}],
"txt4":[{"line":12,"text":"♻ MARKET NARRATIVE ♻"}],
"txt5":[{"line":21,"text":"⏰ MARKET PROGRAM ⏰"}],
"txt6":[{"line":24,"text":"📊REPORT📊"}]
},
"hconcat":[
{"bounds":"flush","spacing":54.3,"vconcat":[
{"width":336,"height":137,"encoding":{"x":{"field":"t","type":"temporal","scale":{"domain":["2021-03-03T00:00","2027-09-18T00:00"],"padding":0},"axis":{"values":[{"year":2022,"month":1,"date":1},{"year":2024,"month":1,"date":1},{"year":2026,"month":1,"date":1}],"format":"%Y"}},"y":{"field":"y","type":"quantitative","scale":{"domain":[1.5407,2.2165],"nice":false,"zero":false},"axis":{"values":[1.6,1.8,2,2.2],"format":"~r"}}},
"layer":[
{"data":{"name":"z1"},"mark":"rect","encoding":{"x2":{"field":"e"},"y2":{"field":"y2"},"color":{"field":"k","type":"nominal","scale":{"domain":["up","upL","dn","dnL","dotU","dotD","yel","grn","cya","nav","red","gry","gryL","pnk","pnkL","blu","lav","lavL","lavX","pnkZ","grnZ","brn","olv","ros","barY","barG","barB","rGry","rGrn"],"range":["#2e9e2e","#7cc47c","#ff5c5c","#ff8f8f","#008000","#ff0000","#ffee22","#007a00","#00f0ff","#000090","#f00000","#8c8c8c","#c0c0c0","#ff9c9c","#ffc8c8","#8f8fdb","#d0d0fb","#e4e4fb","#f3f3fe","#fde0e0","#e4efe4","#8b6a2b","#808030","#c09090","#ffff00","#008000","#0000ff","#808080","#008000"]}}}},
{"data":{"name":"b1"},"mark":{"type":"rect","stroke":"#ffffff","strokeWidth":0.4},"encoding":{"x2":{"field":"e"},"y2":{"field":"y2"},"color":{"field":"k","type":"nominal"}}},
{"data":{"name":"s1"},"mark":{"type":"rule","strokeWidth":1.5},"encoding":{"x2":{"field":"e"},"color":{"field":"k","type":"nominal"}}},
{"data":{"name":"c1"},"mark":{"type":"rule","strokeWidth":1.2},"encoding":{"y":{"field":"l","type":"quantitative"},"y2":{"field":"h"},"stroke":{"condition":{"test":"datum.c>=datum.o","value":"#6fbc72"},"value":"#5c5e70"}}},
{"data":{"name":"c1"},"mark":{"type":"bar","size":2.5,"strokeWidth":1},"encoding":{"y":{"field":"o","type":"quantitative"},"y2":{"field":"c"},"fill":{"condition":{"test":"datum.c>=datum.o","value":"#a3d6a5"},"value":"#8c8e9a"},"stroke":{"condition":{"test":"datum.c>=datum.o","value":"#6fbc72"},"value":"#5c5e70"}}},
{"data":{"name":"d1"},"mark":{"type":"point","filled":true,"size":30,"opacity":1},"encoding":{"color":{"field":"k","type":"nominal"}}},
{"data":{"values":[{"t":"2024-06-13T00:00","y":1.878,"label":"GBPAUD 1mn"}]},"mark":{"type":"text","fontSize":20,"color":"#555555"},"encoding":{"text":{"field":"label"}}}
]},
{"width":336,"height":137,"encoding":{"x":{"field":"t","type":"temporal","scale":{"domain":["2025-05-03T00:00","2026-11-07T00:00"],"padding":0},"axis":{"values":[{"year":2025,"month":7,"date":1},{"year":2026,"month":1,"date":1},{"year":2026,"month":7,"date":1}],"format":"%b %Y"}},"y":{"field":"y","type":"quantitative","scale":{"domain":[1.832,2.1167],"nice":false,"zero":false},"axis":{"values":[1.9,2,2.1],"format":"~r"}}},
"layer":[
{"data":{"name":"z2"},"mark":"rect","encoding":{"x2":{"field":"e"},"y2":{"field":"y2"},"color":{"field":"k","type":"nominal","scale":{"domain":["up","upL","dn","dnL","dotU","dotD","yel","grn","cya","nav","red","gry","gryL","pnk","pnkL","blu","lav","lavL","lavX","pnkZ","grnZ","brn","olv","ros","barY","barG","barB","rGry","rGrn"],"range":["#2e9e2e","#7cc47c","#ff5c5c","#ff8f8f","#008000","#ff0000","#ffee22","#007a00","#00f0ff","#000090","#f00000","#8c8c8c","#c0c0c0","#ff9c9c","#ffc8c8","#8f8fdb","#d0d0fb","#e4e4fb","#f3f3fe","#fde0e0","#e4efe4","#8b6a2b","#808030","#c09090","#ffff00","#008000","#0000ff","#808080","#008000"]}}}},
{"data":{"name":"b2"},"mark":{"type":"rect","stroke":"#ffffff","strokeWidth":0.4},"encoding":{"x2":{"field":"e"},"y2":{"field":"y2"},"color":{"field":"k","type":"nominal"}}},
{"data":{"name":"c2"},"mark":{"type":"rule","strokeWidth":1.2},"encoding":{"y":{"field":"l","type":"quantitative"},"y2":{"field":"h"},"stroke":{"condition":{"test":"datum.c>=datum.o","value":"#6fbc72"},"value":"#5c5e70"}}},
{"data":{"name":"c2"},"mark":{"type":"bar","size":2.5,"strokeWidth":1},"encoding":{"y":{"field":"o","type":"quantitative"},"y2":{"field":"c"},"fill":{"condition":{"test":"datum.c>=datum.o","value":"#a3d6a5"},"value":"#8c8e9a"},"stroke":{"condition":{"test":"datum.c>=datum.o","value":"#6fbc72"},"value":"#5c5e70"}}},
{"data":{"name":"s2"},"mark":{"type":"rule","strokeWidth":1.5},"encoding":{"x2":{"field":"e"},"color":{"field":"k","type":"nominal"}}},
{"data":{"name":"d2"},"mark":{"type":"point","filled":true,"size":30,"opacity":1},"encoding":{"color":{"field":"k","type":"nominal"}}},
{"data":{"values":[{"t":"2026-02-06T00:00","y":1.9757,"label":"GBPAUD 1w"}]},"mark":{"type":"text","fontSize":20,"color":"#555555"},"encoding":{"text":{"field":"label"}}}
]},
{"width":336,"height":137,"encoding":{"x":{"field":"t","type":"temporal","scale":{"domain":["2026-05-03T20:00","2026-09-19T07:00"],"padding":0},"axis":{"values":[{"year":2026,"month":6,"date":1},{"year":2026,"month":7,"date":1},{"year":2026,"month":8,"date":1},{"year":2026,"month":9,"date":10}],"format":"%b %Y"}},"y":{"field":"y","type":"quantitative","scale":{"domain":[1.8466,1.9473],"nice":false,"zero":false},"axis":{"values":[1.85,1.9],"format":"~r"}}},
"layer":[
{"data":{"name":"z3"},"mark":"rect","encoding":{"x2":{"field":"e"},"y2":{"field":"y2"},"color":{"field":"k","type":"nominal","scale":{"domain":["up","upL","dn","dnL","dotU","dotD","yel","grn","cya","nav","red","gry","gryL","pnk","pnkL","blu","lav","lavL","lavX","pnkZ","grnZ","brn","olv","ros","barY","barG","barB","rGry","rGrn"],"range":["#2e9e2e","#7cc47c","#ff5c5c","#ff8f8f","#008000","#ff0000","#ffee22","#007a00","#00f0ff","#000090","#f00000","#8c8c8c","#c0c0c0","#ff9c9c","#ffc8c8","#8f8fdb","#d0d0fb","#e4e4fb","#f3f3fe","#fde0e0","#e4efe4","#8b6a2b","#808030","#c09090","#ffff00","#008000","#0000ff","#808080","#008000"]}}}},
{"data":{"name":"s3"},"mark":{"type":"rule","strokeWidth":1.5},"encoding":{"x2":{"field":"e"},"color":{"field":"k","type":"nominal"}}},
{"data":{"name":"c3"},"mark":{"type":"rule","strokeWidth":1},"encoding":{"y":{"field":"l","type":"quantitative"},"y2":{"field":"h"},"stroke":{"condition":{"test":"datum.c>=datum.o","value":"#6fbc72"},"value":"#5c5e70"}}},
{"data":{"name":"c3"},"mark":{"type":"bar","size":1.3,"strokeWidth":0.8},"encoding":{"y":{"field":"o","type":"quantitative"},"y2":{"field":"c"},"fill":{"condition":{"test":"datum.c>=datum.o","value":"#a3d6a5"},"value":"#8c8e9a"},"stroke":{"condition":{"test":"datum.c>=datum.o","value":"#6fbc72"},"value":"#5c5e70"}}},
{"data":{"name":"d3"},"mark":{"type":"point","filled":true,"size":30,"opacity":1},"encoding":{"color":{"field":"k","type":"nominal"}}},
{"data":{"values":[{"t":"2026-07-11T20:00","y":1.897,"label":"GBPAUD 1d"}]},"mark":{"type":"text","fontSize":20,"color":"#555555"},"encoding":{"text":{"field":"label"}}}
]},
{"width":336,"height":137,"encoding":{"x":{"field":"t","type":"temporal","scale":{"domain":["2026-07-22T06:04","2026-08-09T16:15"],"padding":0},"axis":{"values":[{"year":2026,"month":7,"date":26},{"year":2026,"month":8,"date":2}],"labelExpr":"month(datum.value)==6?['Jul 26','2026']:'Aug 2'"}},"y":{"field":"y","type":"quantitative","scale":{"domain":[1.89754,1.9282],"nice":false,"zero":false},"axis":{"values":[1.9,1.91,1.92],"format":"~r"}}},
"layer":[
{"data":{"name":"z4"},"mark":"rect","encoding":{"x2":{"field":"e"},"y2":{"field":"y2"},"color":{"field":"k","type":"nominal","scale":{"domain":["up","upL","dn","dnL","dotU","dotD","yel","grn","cya","nav","red","gry","gryL","pnk","pnkL","blu","lav","lavL","lavX","pnkZ","grnZ","brn","olv","ros","barY","barG","barB","rGry","rGrn"],"range":["#2e9e2e","#7cc47c","#ff5c5c","#ff8f8f","#008000","#ff0000","#ffee22","#007a00","#00f0ff","#000090","#f00000","#8c8c8c","#c0c0c0","#ff9c9c","#ffc8c8","#8f8fdb","#d0d0fb","#e4e4fb","#f3f3fe","#fde0e0","#e4efe4","#8b6a2b","#808030","#c09090","#ffff00","#008000","#0000ff","#808080","#008000"]}}}},
{"data":{"name":"b4"},"mark":{"type":"rect","stroke":"#ffffff","strokeWidth":0.4},"encoding":{"x2":{"field":"e"},"y2":{"field":"y2"},"color":{"field":"k","type":"nominal"}}},
{"data":{"name":"c4"},"mark":{"type":"rule","strokeWidth":1.2},"encoding":{"y":{"field":"l","type":"quantitative"},"y2":{"field":"h"},"stroke":{"condition":{"test":"datum.c>=datum.o","value":"#6fbc72"},"value":"#5c5e70"}}},
{"data":{"name":"c4"},"mark":{"type":"bar","size":1.8,"strokeWidth":0.8},"encoding":{"y":{"field":"o","type":"quantitative"},"y2":{"field":"c"},"fill":{"condition":{"test":"datum.c>=datum.o","value":"#a3d6a5"},"value":"#8c8e9a"},"stroke":{"condition":{"test":"datum.c>=datum.o","value":"#6fbc72"},"value":"#5c5e70"}}},
{"data":{"name":"s4"},"mark":{"type":"rule","strokeWidth":1.5},"encoding":{"x2":{"field":"e"},"color":{"field":"k","type":"nominal"}}},
{"data":{"name":"d4"},"mark":{"type":"point","filled":true,"size":30,"opacity":1},"encoding":{"color":{"field":"k","type":"nominal"}}},
{"data":{"values":[{"t":"2026-07-31T10:00","y":1.91291,"label":"GBPAUD 4h"}]},"mark":{"type":"text","fontSize":20,"color":"#555555"},"encoding":{"text":{"field":"label"}}}
]},
{"width":336,"height":137,"encoding":{"x":{"field":"t","type":"temporal","scale":{"domain":["2026-08-03T15:06","2026-08-06T21:47"],"padding":0},"axis":{"values":[{"year":2026,"month":8,"date":4},{"year":2026,"month":8,"date":5},{"year":2026,"month":8,"date":6}],"labelExpr":"date(datum.value)==4?['Aug 4','2026']:timeFormat(datum.value,'%b %-d')"}},"y":{"field":"y","type":"quantitative","scale":{"domain":[1.905,1.91964],"nice":false,"zero":false},"axis":{"values":[1.905,1.91,1.915],"format":"~r"}}},
"layer":[
{"data":{"name":"z6"},"mark":"rect","encoding":{"x2":{"field":"e"},"y2":{"field":"y2"},"color":{"field":"k","type":"nominal","scale":{"domain":["up","upL","dn","dnL","dotU","dotD","yel","grn","cya","nav","red","gry","gryL","pnk","pnkL","blu","lav","lavL","lavX","pnkZ","grnZ","brn","olv","ros","barY","barG","barB","rGry","rGrn"],"range":["#2e9e2e","#7cc47c","#ff5c5c","#ff8f8f","#008000","#ff0000","#ffee22","#007a00","#00f0ff","#000090","#f00000","#8c8c8c","#c0c0c0","#ff9c9c","#ffc8c8","#8f8fdb","#d0d0fb","#e4e4fb","#f3f3fe","#fde0e0","#e4efe4","#8b6a2b","#808030","#c09090","#ffff00","#008000","#0000ff","#808080","#008000"]}}}},
{"data":{"name":"b6"},"mark":{"type":"rect","stroke":"#ffffff","strokeWidth":0.4},"encoding":{"x2":{"field":"e"},"y2":{"field":"y2"},"color":{"field":"k","type":"nominal"}}},
{"data":{"name":"c6"},"mark":{"type":"rule","strokeWidth":1.2},"encoding":{"y":{"field":"l","type":"quantitative"},"y2":{"field":"h"},"stroke":{"condition":{"test":"datum.c>=datum.o","value":"#6fbc72"},"value":"#5c5e70"}}},
{"data":{"name":"c6"},"mark":{"type":"bar","size":2.5,"strokeWidth":1},"encoding":{"y":{"field":"o","type":"quantitative"},"y2":{"field":"c"},"fill":{"condition":{"test":"datum.c>=datum.o","value":"#a3d6a5"},"value":"#8c8e9a"},"stroke":{"condition":{"test":"datum.c>=datum.o","value":"#6fbc72"},"value":"#5c5e70"}}},
{"data":{"name":"s6"},"mark":{"type":"rule","strokeWidth":1.5},"encoding":{"x2":{"field":"e"},"color":{"field":"k","type":"nominal"}}},
{"data":{"name":"d6"},"mark":{"type":"point","filled":true,"size":30,"opacity":1},"encoding":{"color":{"field":"k","type":"nominal"}}},
{"data":{"values":[{"t":"2026-08-05T06:17","y":1.91232,"label":"GBPAUD 1h"}]},"mark":{"type":"text","fontSize":20,"color":"#555555"},"encoding":{"text":{"field":"label"}}}
]}
]},
{"bounds":"flush","spacing":1040,"hconcat":[
{"bounds":"flush","spacing":54,"vconcat":[
{"width":1114,"height":327,"view":{"stroke":"#7c7cff","strokeWidth":3},"encoding":{"x":{"field":"t","type":"temporal","scale":{"domain":["2026-08-05T04:22","2026-08-06T12:43"],"padding":0},"axis":{"values":[{"year":2026,"month":8,"date":5,"hours":6},{"year":2026,"month":8,"date":5,"hours":12},{"year":2026,"month":8,"date":5,"hours":18},{"year":2026,"month":8,"date":6,"hours":0},{"year":2026,"month":8,"date":6,"hours":6},{"year":2026,"month":8,"date":6,"hours":12}],"domainColor":"#4444dd","domainWidth":3,"labelExpr":"hours(datum.value)==0||(hours(datum.value)==6&&date(datum.value)==5)?[timeFormat(datum.value,'%H:%M'),timeFormat(datum.value,'%b %-d, %Y')]:timeFormat(datum.value,'%H:%M')"}},"y":{"field":"y","type":"quantitative","scale":{"domain":[1.90552,1.91425],"nice":false,"zero":false},"axis":{"values":[1.906,1.907,1.908,1.909,1.91,1.911,1.912,1.913,1.914],"format":"~r","domainColor":"#4444dd","domainWidth":3}}},
"layer":[
{"data":{"name":"z15"},"mark":"rect","encoding":{"x2":{"field":"e"},"y2":{"field":"y2"},"color":{"field":"k","type":"nominal","scale":{"domain":["up","upL","dn","dnL","dotU","dotD","yel","grn","cya","nav","red","gry","gryL","pnk","pnkL","blu","lav","lavL","lavX","pnkZ","grnZ","brn","olv","ros","barY","barG","barB","rGry","rGrn"],"range":["#2e9e2e","#7cc47c","#ff5c5c","#ff8f8f","#008000","#ff0000","#ffee22","#007a00","#00f0ff","#000090","#f00000","#8c8c8c","#c0c0c0","#ff9c9c","#ffc8c8","#8f8fdb","#d0d0fb","#e4e4fb","#f3f3fe","#fde0e0","#e4efe4","#8b6a2b","#808030","#c09090","#ffff00","#008000","#0000ff","#808080","#008000"]}}}},
{"data":{"name":"b15"},"mark":{"type":"rect","stroke":"#e8f0e8","strokeWidth":0.6},"encoding":{"x2":{"field":"e"},"y2":{"field":"y2"},"color":{"field":"k","type":"nominal"}}},
{"data":{"name":"s15"},"mark":{"type":"rule","strokeWidth":2},"encoding":{"x2":{"field":"e"},"color":{"field":"k","type":"nominal"}}},
{"data":{"name":"c15"},"mark":{"type":"rule","strokeWidth":1.6},"encoding":{"y":{"field":"l","type":"quantitative"},"y2":{"field":"h"},"stroke":{"condition":{"test":"datum.c>=datum.o","value":"#6fbc72"},"value":"#5c5e70"}}},
{"data":{"name":"c15"},"mark":{"type":"bar","size":4.5,"strokeWidth":1.2},"encoding":{"y":{"field":"o","type":"quantitative"},"y2":{"field":"c"},"fill":{"condition":{"test":"datum.c>=datum.o","value":"#a3d6a5"},"value":"#9a9ca8"},"stroke":{"condition":{"test":"datum.c>=datum.o","value":"#6fbc72"},"value":"#5c5e70"}}},
{"data":{"name":"d15"},"mark":{"type":"point","filled":true,"size":28,"opacity":1},"encoding":{"color":{"field":"k","type":"nominal"}}},
{"data":{"name":"n15"},"mark":{"type":"line","strokeWidth":0.8,"color":"#333333"},"encoding":{"detail":{"field":"g"}}},
{"data":{"name":"x15"},"mark":{"type":"text","fontSize":12,"color":"#222222"},"encoding":{"text":{"field":"label"}}},
{"data":{"values":[{"t":"2026-08-05T20:34","y":1.9099,"label":"GBPAUD 15m"}]},"mark":{"type":"text","fontSize":20,"color":"#555555"},"encoding":{"text":{"field":"label"}}}
]},
{"width":1114,"height":519,"view":{"stroke":"#ff8080","strokeWidth":3},"encoding":{"x":{"field":"t","type":"temporal","scale":{"domain":["2026-08-05T21:30","2026-08-06T10:16"],"padding":0},"axis":{"values":[{"year":2026,"month":8,"date":5,"hours":22},{"year":2026,"month":8,"date":6,"hours":0},{"year":2026,"month":8,"date":6,"hours":2},{"year":2026,"month":8,"date":6,"hours":4},{"year":2026,"month":8,"date":6,"hours":6},{"year":2026,"month":8,"date":6,"hours":8},{"year":2026,"month":8,"date":6,"hours":10}],"domainColor":"#d94a4a","domainWidth":3,"labelExpr":"hours(datum.value)==0||hours(datum.value)==22?[timeFormat(datum.value,'%H:%M'),timeFormat(datum.value,'%b %-d, %Y')]:timeFormat(datum.value,'%H:%M')"}},"y":{"field":"y","type":"quantitative","scale":{"domain":[1.90603,1.91422],"nice":false,"zero":false},"axis":{"values":[1.907,1.908,1.909,1.91,1.911,1.912,1.913,1.914],"format":"~r","domainColor":"#d94a4a","domainWidth":3}}},
"layer":[
{"data":{"name":"z5"},"mark":"rect","encoding":{"x2":{"field":"e"},"y2":{"field":"y2"},"color":{"field":"k","type":"nominal","scale":{"domain":["up","upL","dn","dnL","dotU","dotD","yel","grn","cya","nav","red","gry","gryL","pnk","pnkL","blu","lav","lavL","lavX","pnkZ","grnZ","brn","olv","ros","barY","barG","barB","rGry","rGrn"],"range":["#2e9e2e","#7cc47c","#ff5c5c","#ff8f8f","#008000","#ff0000","#ffee22","#007a00","#00f0ff","#000090","#f00000","#8c8c8c","#c0c0c0","#ff9c9c","#ffc8c8","#8f8fdb","#d0d0fb","#e4e4fb","#f3f3fe","#fde0e0","#e4efe4","#8b6a2b","#808030","#c09090","#ffff00","#008000","#0000ff","#808080","#008000"]}}}},
{"data":{"name":"b5a"},"mark":{"type":"rect","stroke":"#e8f0e8","strokeWidth":0.6},"encoding":{"x2":{"field":"e"},"y2":{"field":"y2"},"color":{"field":"k","type":"nominal"}}},
{"data":{"name":"s5"},"mark":{"type":"rule","strokeWidth":1.5},"encoding":{"x2":{"field":"e"},"color":{"field":"k","type":"nominal"}}},
{"data":{"name":"c5"},"mark":{"type":"rule","strokeWidth":1.6},"encoding":{"y":{"field":"l","type":"quantitative"},"y2":{"field":"h"},"stroke":{"condition":{"test":"datum.c>=datum.o","value":"#6fbc72"},"value":"#5c5e70"}}},
{"data":{"name":"c5"},"mark":{"type":"bar","size":4,"strokeWidth":1.2},"encoding":{"y":{"field":"o","type":"quantitative"},"y2":{"field":"c"},"fill":{"condition":{"test":"datum.c>=datum.o","value":"#a3d6a5"},"value":"#9a9ca8"},"stroke":{"condition":{"test":"datum.c>=datum.o","value":"#6fbc72"},"value":"#5c5e70"}}},
{"data":{"name":"d5"},"mark":{"type":"point","filled":true,"size":28,"opacity":1},"encoding":{"color":{"field":"k","type":"nominal"}}},
{"data":{"name":"r5"},"mark":{"type":"rect","opacity":0.5,"stroke":"#333333","strokeWidth":1},"encoding":{"x2":{"field":"e"},"y2":{"field":"y2"},"color":{"field":"k","type":"nominal"}}},
{"data":{"name":"l5"},"mark":{"type":"rule","strokeWidth":2},"encoding":{"x2":{"field":"e"},"color":{"field":"k","type":"nominal"}}},
{"data":{"name":"b5b"},"mark":{"type":"rect","stroke":"#e8f0e8","strokeWidth":1},"encoding":{"x2":{"field":"e"},"y2":{"field":"y2"},"color":{"field":"k","type":"nominal"}}},
{"data":{"name":"n5"},"mark":{"type":"line","strokeWidth":0.8,"color":"#333333"},"encoding":{"detail":{"field":"g"}}},
{"data":{"name":"x5"},"mark":{"type":"text","fontSize":12,"color":"#222222"},"encoding":{"text":{"field":"label"}}},
{"data":{"values":[{"t":"2026-08-06T03:53","y":1.9101,"label":"GBPAUD 5m"}]},"mark":{"type":"text","fontSize":20,"color":"#555555","opacity":0.9},"encoding":{"text":{"field":"label"}}}
]}
]},
{"width":413,"height":900,"encoding":{"x":{"value":0},"y":{"field":"line","type":"quantitative","scale":{"domain":[0.866,73.74],"range":[0,900],"zero":false,"nice":false},"axis":null},"text":{"field":"text"}},
"layer":[
{"data":{"name":"txt"},"mark":{"type":"text","align":"left","fontSize":9.5,"color":"#222222","clip":false}},
{"data":{"name":"txt1"},"mark":{"type":"text","align":"left","fontSize":9.5,"color":"#222222","clip":false,"dx":19}},
{"data":{"name":"txt2"},"mark":{"type":"text","align":"left","fontSize":9.5,"color":"#222222","clip":false,"dx":69}},
{"data":{"name":"txt3"},"mark":{"type":"text","align":"left","fontSize":9.5,"color":"#222222","clip":false,"dx":36}},
{"data":{"name":"txt4"},"mark":{"type":"text","align":"left","fontSize":9.5,"color":"#222222","clip":false,"dx":67}},
{"data":{"name":"txt5"},"mark":{"type":"text","align":"left","fontSize":9.5,"color":"#222222","clip":false,"dx":73}},
{"data":{"name":"txt6"},"mark":{"type":"text","align":"left","fontSize":9.5,"color":"#222222","clip":false,"dx":83}}
]}
]}
]}
